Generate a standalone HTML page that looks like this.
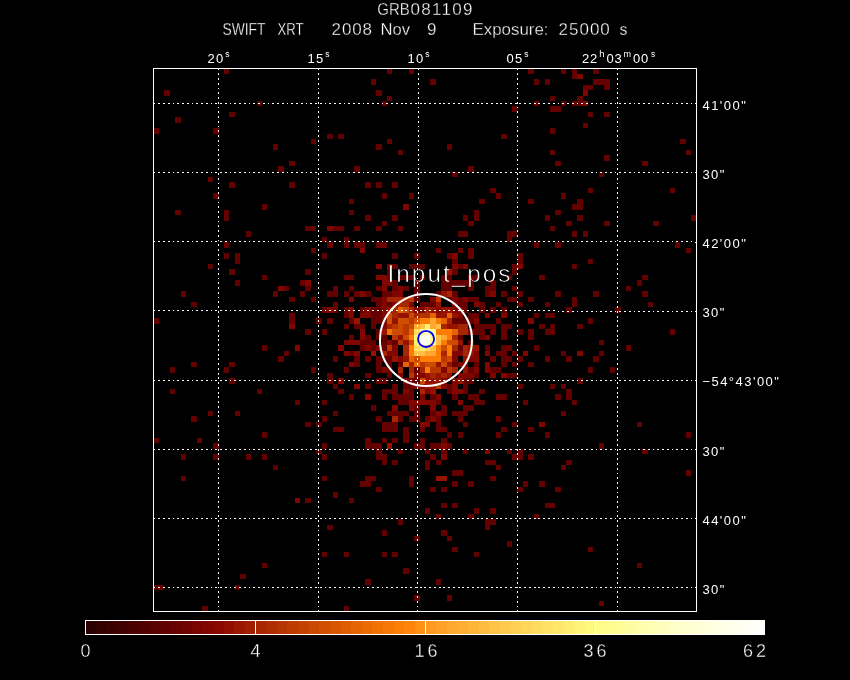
<!DOCTYPE html>
<html><head><meta charset="utf-8"><title>GRB081109</title>
<style>
html,body{margin:0;padding:0;background:#000;}
body{width:850px;height:680px;overflow:hidden;position:relative;font-family:"Liberation Sans",sans-serif;}
svg{position:absolute;left:0;top:0;}
text{font-family:"Liberation Sans",sans-serif;fill:#fff;stroke:#000;}
</style></head><body>
<svg width="850" height="680" viewBox="0 0 850 680">
<rect width="850" height="680" fill="#000"/>

<g shape-rendering="crispEdges">
<rect x="154" y="128" width="5" height="6" fill="#650000"/>
<rect x="154" y="318" width="5" height="6" fill="#650000"/>
<rect x="154" y="438" width="5" height="5" fill="#650000"/>
<rect x="154" y="585" width="5" height="5" fill="#650000"/>
<rect x="159" y="585" width="5" height="5" fill="#650000"/>
<rect x="164" y="90" width="6" height="6" fill="#650000"/>
<rect x="170" y="367" width="5" height="6" fill="#650000"/>
<rect x="170" y="389" width="5" height="5" fill="#650000"/>
<rect x="175" y="117" width="6" height="6" fill="#650000"/>
<rect x="175" y="210" width="6" height="5" fill="#650000"/>
<rect x="181" y="291" width="5" height="6" fill="#650000"/>
<rect x="181" y="454" width="5" height="6" fill="#650000"/>
<rect x="181" y="476" width="5" height="5" fill="#650000"/>
<rect x="191" y="302" width="6" height="5" fill="#650000"/>
<rect x="191" y="362" width="6" height="5" fill="#650000"/>
<rect x="191" y="416" width="6" height="6" fill="#650000"/>
<rect x="197" y="438" width="5" height="5" fill="#650000"/>
<rect x="202" y="606" width="6" height="5" fill="#650000"/>
<rect x="208" y="177" width="5" height="5" fill="#650000"/>
<rect x="208" y="264" width="5" height="5" fill="#650000"/>
<rect x="208" y="411" width="5" height="5" fill="#650000"/>
<rect x="213" y="128" width="6" height="6" fill="#650000"/>
<rect x="213" y="193" width="6" height="6" fill="#650000"/>
<rect x="213" y="443" width="6" height="6" fill="#650000"/>
<rect x="213" y="454" width="6" height="6" fill="#650000"/>
<rect x="224" y="69" width="5" height="5" fill="#650000"/>
<rect x="224" y="210" width="5" height="5" fill="#650000"/>
<rect x="224" y="215" width="5" height="6" fill="#650000"/>
<rect x="224" y="242" width="5" height="6" fill="#650000"/>
<rect x="224" y="253" width="5" height="6" fill="#650000"/>
<rect x="224" y="367" width="5" height="6" fill="#650000"/>
<rect x="229" y="112" width="6" height="5" fill="#650000"/>
<rect x="229" y="182" width="6" height="6" fill="#650000"/>
<rect x="229" y="269" width="6" height="6" fill="#650000"/>
<rect x="229" y="362" width="6" height="5" fill="#650000"/>
<rect x="229" y="378" width="6" height="6" fill="#650000"/>
<rect x="235" y="253" width="5" height="6" fill="#650000"/>
<rect x="235" y="259" width="5" height="5" fill="#650000"/>
<rect x="235" y="280" width="5" height="6" fill="#650000"/>
<rect x="235" y="411" width="5" height="5" fill="#650000"/>
<rect x="235" y="585" width="5" height="5" fill="#650000"/>
<rect x="240" y="574" width="6" height="5" fill="#650000"/>
<rect x="246" y="231" width="5" height="6" fill="#650000"/>
<rect x="246" y="454" width="5" height="6" fill="#650000"/>
<rect x="257" y="101" width="5" height="5" fill="#650000"/>
<rect x="257" y="389" width="5" height="5" fill="#650000"/>
<rect x="262" y="204" width="5" height="6" fill="#650000"/>
<rect x="262" y="275" width="5" height="5" fill="#650000"/>
<rect x="262" y="345" width="5" height="6" fill="#650000"/>
<rect x="262" y="432" width="5" height="6" fill="#650000"/>
<rect x="262" y="454" width="5" height="6" fill="#650000"/>
<rect x="262" y="563" width="5" height="5" fill="#650000"/>
<rect x="273" y="144" width="5" height="6" fill="#650000"/>
<rect x="273" y="291" width="5" height="6" fill="#650000"/>
<rect x="273" y="465" width="5" height="5" fill="#650000"/>
<rect x="278" y="166" width="6" height="6" fill="#650000"/>
<rect x="278" y="286" width="6" height="5" fill="#810600"/>
<rect x="278" y="356" width="6" height="6" fill="#650000"/>
<rect x="284" y="286" width="5" height="5" fill="#650000"/>
<rect x="284" y="351" width="5" height="5" fill="#650000"/>
<rect x="289" y="161" width="6" height="5" fill="#650000"/>
<rect x="289" y="182" width="6" height="6" fill="#650000"/>
<rect x="289" y="297" width="6" height="5" fill="#650000"/>
<rect x="289" y="313" width="6" height="5" fill="#650000"/>
<rect x="289" y="318" width="6" height="6" fill="#650000"/>
<rect x="289" y="324" width="6" height="5" fill="#810600"/>
<rect x="295" y="345" width="5" height="6" fill="#810600"/>
<rect x="295" y="400" width="5" height="5" fill="#650000"/>
<rect x="295" y="498" width="5" height="5" fill="#810600"/>
<rect x="300" y="280" width="5" height="6" fill="#650000"/>
<rect x="300" y="291" width="5" height="6" fill="#650000"/>
<rect x="305" y="226" width="6" height="5" fill="#650000"/>
<rect x="305" y="269" width="6" height="6" fill="#650000"/>
<rect x="305" y="280" width="6" height="6" fill="#810600"/>
<rect x="305" y="286" width="6" height="5" fill="#650000"/>
<rect x="305" y="329" width="6" height="6" fill="#650000"/>
<rect x="305" y="422" width="6" height="5" fill="#650000"/>
<rect x="305" y="498" width="6" height="5" fill="#650000"/>
<rect x="311" y="139" width="5" height="5" fill="#650000"/>
<rect x="311" y="226" width="5" height="5" fill="#650000"/>
<rect x="311" y="248" width="5" height="5" fill="#650000"/>
<rect x="311" y="297" width="5" height="5" fill="#650000"/>
<rect x="311" y="367" width="5" height="6" fill="#650000"/>
<rect x="316" y="318" width="6" height="6" fill="#650000"/>
<rect x="316" y="422" width="6" height="5" fill="#650000"/>
<rect x="316" y="449" width="6" height="5" fill="#650000"/>
<rect x="322" y="237" width="5" height="5" fill="#650000"/>
<rect x="322" y="253" width="5" height="6" fill="#650000"/>
<rect x="322" y="307" width="5" height="6" fill="#650000"/>
<rect x="322" y="329" width="5" height="6" fill="#650000"/>
<rect x="322" y="400" width="5" height="5" fill="#650000"/>
<rect x="322" y="416" width="5" height="6" fill="#650000"/>
<rect x="322" y="443" width="5" height="6" fill="#650000"/>
<rect x="322" y="454" width="5" height="6" fill="#650000"/>
<rect x="322" y="476" width="5" height="5" fill="#650000"/>
<rect x="322" y="552" width="5" height="5" fill="#650000"/>
<rect x="327" y="134" width="6" height="5" fill="#650000"/>
<rect x="327" y="226" width="6" height="5" fill="#810600"/>
<rect x="327" y="242" width="6" height="6" fill="#650000"/>
<rect x="327" y="291" width="6" height="6" fill="#650000"/>
<rect x="327" y="307" width="6" height="6" fill="#810600"/>
<rect x="327" y="318" width="6" height="6" fill="#650000"/>
<rect x="327" y="373" width="6" height="5" fill="#650000"/>
<rect x="327" y="378" width="6" height="6" fill="#650000"/>
<rect x="327" y="525" width="6" height="5" fill="#650000"/>
<rect x="333" y="226" width="5" height="5" fill="#650000"/>
<rect x="333" y="286" width="5" height="5" fill="#650000"/>
<rect x="333" y="291" width="5" height="6" fill="#650000"/>
<rect x="333" y="302" width="5" height="5" fill="#650000"/>
<rect x="333" y="307" width="5" height="6" fill="#650000"/>
<rect x="333" y="356" width="5" height="6" fill="#650000"/>
<rect x="333" y="384" width="5" height="5" fill="#650000"/>
<rect x="333" y="411" width="5" height="5" fill="#650000"/>
<rect x="333" y="427" width="5" height="5" fill="#650000"/>
<rect x="333" y="492" width="5" height="6" fill="#650000"/>
<rect x="338" y="134" width="6" height="5" fill="#650000"/>
<rect x="338" y="226" width="6" height="5" fill="#650000"/>
<rect x="338" y="345" width="6" height="6" fill="#810600"/>
<rect x="338" y="378" width="6" height="6" fill="#810600"/>
<rect x="338" y="389" width="6" height="5" fill="#650000"/>
<rect x="338" y="427" width="6" height="5" fill="#650000"/>
<rect x="344" y="237" width="5" height="5" fill="#650000"/>
<rect x="344" y="242" width="5" height="6" fill="#650000"/>
<rect x="344" y="275" width="5" height="5" fill="#650000"/>
<rect x="344" y="291" width="5" height="6" fill="#650000"/>
<rect x="344" y="307" width="5" height="6" fill="#650000"/>
<rect x="344" y="313" width="5" height="5" fill="#650000"/>
<rect x="344" y="324" width="5" height="5" fill="#650000"/>
<rect x="344" y="340" width="5" height="5" fill="#810600"/>
<rect x="344" y="351" width="5" height="5" fill="#810600"/>
<rect x="344" y="367" width="5" height="6" fill="#650000"/>
<rect x="344" y="552" width="5" height="5" fill="#650000"/>
<rect x="344" y="606" width="5" height="5" fill="#650000"/>
<rect x="349" y="199" width="5" height="5" fill="#650000"/>
<rect x="349" y="210" width="5" height="5" fill="#650000"/>
<rect x="349" y="275" width="5" height="5" fill="#650000"/>
<rect x="349" y="286" width="5" height="5" fill="#650000"/>
<rect x="349" y="297" width="5" height="5" fill="#810600"/>
<rect x="349" y="307" width="5" height="6" fill="#810600"/>
<rect x="349" y="313" width="5" height="5" fill="#810600"/>
<rect x="349" y="318" width="5" height="6" fill="#650000"/>
<rect x="349" y="335" width="5" height="5" fill="#650000"/>
<rect x="349" y="340" width="5" height="5" fill="#810600"/>
<rect x="349" y="351" width="5" height="5" fill="#650000"/>
<rect x="349" y="362" width="5" height="5" fill="#810600"/>
<rect x="349" y="394" width="5" height="6" fill="#650000"/>
<rect x="349" y="498" width="5" height="5" fill="#650000"/>
<rect x="354" y="166" width="6" height="6" fill="#650000"/>
<rect x="354" y="226" width="6" height="5" fill="#650000"/>
<rect x="354" y="242" width="6" height="6" fill="#650000"/>
<rect x="354" y="291" width="6" height="6" fill="#650000"/>
<rect x="354" y="318" width="6" height="6" fill="#961300"/>
<rect x="354" y="324" width="6" height="5" fill="#650000"/>
<rect x="354" y="340" width="6" height="5" fill="#810600"/>
<rect x="354" y="351" width="6" height="5" fill="#810600"/>
<rect x="354" y="356" width="6" height="6" fill="#650000"/>
<rect x="354" y="362" width="6" height="5" fill="#650000"/>
<rect x="354" y="384" width="6" height="5" fill="#810600"/>
<rect x="360" y="242" width="5" height="6" fill="#650000"/>
<rect x="360" y="248" width="5" height="5" fill="#810600"/>
<rect x="360" y="291" width="5" height="6" fill="#810600"/>
<rect x="360" y="307" width="5" height="6" fill="#650000"/>
<rect x="360" y="313" width="5" height="5" fill="#810600"/>
<rect x="360" y="324" width="5" height="5" fill="#650000"/>
<rect x="360" y="329" width="5" height="6" fill="#810600"/>
<rect x="360" y="335" width="5" height="5" fill="#810600"/>
<rect x="360" y="340" width="5" height="5" fill="#650000"/>
<rect x="360" y="345" width="5" height="6" fill="#650000"/>
<rect x="360" y="481" width="5" height="6" fill="#650000"/>
<rect x="365" y="182" width="6" height="6" fill="#650000"/>
<rect x="365" y="215" width="6" height="6" fill="#650000"/>
<rect x="365" y="291" width="6" height="6" fill="#650000"/>
<rect x="365" y="307" width="6" height="6" fill="#810600"/>
<rect x="365" y="313" width="6" height="5" fill="#810600"/>
<rect x="365" y="335" width="6" height="5" fill="#650000"/>
<rect x="365" y="340" width="6" height="5" fill="#650000"/>
<rect x="365" y="345" width="6" height="6" fill="#810600"/>
<rect x="365" y="356" width="6" height="6" fill="#650000"/>
<rect x="365" y="373" width="6" height="5" fill="#650000"/>
<rect x="365" y="384" width="6" height="5" fill="#650000"/>
<rect x="365" y="394" width="6" height="6" fill="#810600"/>
<rect x="365" y="438" width="6" height="5" fill="#650000"/>
<rect x="365" y="443" width="6" height="6" fill="#650000"/>
<rect x="365" y="476" width="6" height="5" fill="#650000"/>
<rect x="365" y="481" width="6" height="6" fill="#650000"/>
<rect x="365" y="579" width="6" height="6" fill="#650000"/>
<rect x="371" y="79" width="5" height="6" fill="#650000"/>
<rect x="371" y="297" width="5" height="5" fill="#650000"/>
<rect x="371" y="307" width="5" height="6" fill="#650000"/>
<rect x="371" y="313" width="5" height="5" fill="#650000"/>
<rect x="371" y="318" width="5" height="6" fill="#650000"/>
<rect x="371" y="324" width="5" height="5" fill="#650000"/>
<rect x="371" y="340" width="5" height="5" fill="#650000"/>
<rect x="371" y="345" width="5" height="6" fill="#650000"/>
<rect x="371" y="351" width="5" height="5" fill="#961300"/>
<rect x="371" y="405" width="5" height="6" fill="#650000"/>
<rect x="371" y="443" width="5" height="6" fill="#650000"/>
<rect x="371" y="476" width="5" height="5" fill="#650000"/>
<rect x="376" y="90" width="6" height="6" fill="#650000"/>
<rect x="376" y="144" width="6" height="6" fill="#650000"/>
<rect x="376" y="182" width="6" height="6" fill="#650000"/>
<rect x="376" y="226" width="6" height="5" fill="#650000"/>
<rect x="376" y="242" width="6" height="6" fill="#650000"/>
<rect x="376" y="264" width="6" height="5" fill="#810600"/>
<rect x="376" y="275" width="6" height="5" fill="#810600"/>
<rect x="376" y="286" width="6" height="5" fill="#650000"/>
<rect x="376" y="297" width="6" height="5" fill="#650000"/>
<rect x="376" y="302" width="6" height="5" fill="#650000"/>
<rect x="376" y="307" width="6" height="6" fill="#650000"/>
<rect x="376" y="313" width="6" height="5" fill="#650000"/>
<rect x="376" y="318" width="6" height="6" fill="#650000"/>
<rect x="376" y="329" width="6" height="6" fill="#650000"/>
<rect x="376" y="335" width="6" height="5" fill="#650000"/>
<rect x="376" y="345" width="6" height="6" fill="#810600"/>
<rect x="376" y="356" width="6" height="6" fill="#650000"/>
<rect x="376" y="362" width="6" height="5" fill="#650000"/>
<rect x="376" y="367" width="6" height="6" fill="#650000"/>
<rect x="376" y="378" width="6" height="6" fill="#650000"/>
<rect x="376" y="416" width="6" height="6" fill="#650000"/>
<rect x="376" y="443" width="6" height="6" fill="#650000"/>
<rect x="376" y="449" width="6" height="5" fill="#650000"/>
<rect x="376" y="454" width="6" height="6" fill="#650000"/>
<rect x="376" y="487" width="6" height="5" fill="#650000"/>
<rect x="382" y="101" width="5" height="5" fill="#650000"/>
<rect x="382" y="193" width="5" height="6" fill="#650000"/>
<rect x="382" y="221" width="5" height="5" fill="#650000"/>
<rect x="382" y="242" width="5" height="6" fill="#650000"/>
<rect x="382" y="275" width="5" height="5" fill="#810600"/>
<rect x="382" y="280" width="5" height="6" fill="#810600"/>
<rect x="382" y="286" width="5" height="5" fill="#810600"/>
<rect x="382" y="291" width="5" height="6" fill="#650000"/>
<rect x="382" y="297" width="5" height="5" fill="#810600"/>
<rect x="382" y="302" width="5" height="5" fill="#810600"/>
<rect x="382" y="307" width="5" height="6" fill="#810600"/>
<rect x="382" y="313" width="5" height="5" fill="#810600"/>
<rect x="382" y="318" width="5" height="6" fill="#810600"/>
<rect x="382" y="324" width="5" height="5" fill="#810600"/>
<rect x="382" y="329" width="5" height="6" fill="#961300"/>
<rect x="382" y="335" width="5" height="5" fill="#650000"/>
<rect x="382" y="340" width="5" height="5" fill="#650000"/>
<rect x="382" y="345" width="5" height="6" fill="#650000"/>
<rect x="382" y="351" width="5" height="5" fill="#a72500"/>
<rect x="382" y="356" width="5" height="6" fill="#650000"/>
<rect x="382" y="367" width="5" height="6" fill="#810600"/>
<rect x="382" y="378" width="5" height="6" fill="#650000"/>
<rect x="382" y="389" width="5" height="5" fill="#650000"/>
<rect x="382" y="394" width="5" height="6" fill="#650000"/>
<rect x="382" y="422" width="5" height="5" fill="#650000"/>
<rect x="382" y="427" width="5" height="5" fill="#650000"/>
<rect x="382" y="438" width="5" height="5" fill="#650000"/>
<rect x="382" y="454" width="5" height="6" fill="#650000"/>
<rect x="382" y="460" width="5" height="5" fill="#650000"/>
<rect x="382" y="530" width="5" height="6" fill="#650000"/>
<rect x="382" y="552" width="5" height="5" fill="#650000"/>
<rect x="387" y="69" width="5" height="5" fill="#650000"/>
<rect x="387" y="96" width="5" height="5" fill="#650000"/>
<rect x="387" y="139" width="5" height="5" fill="#650000"/>
<rect x="387" y="264" width="5" height="5" fill="#810600"/>
<rect x="387" y="269" width="5" height="6" fill="#650000"/>
<rect x="387" y="275" width="5" height="5" fill="#650000"/>
<rect x="387" y="280" width="5" height="6" fill="#810600"/>
<rect x="387" y="291" width="5" height="6" fill="#650000"/>
<rect x="387" y="297" width="5" height="5" fill="#a72500"/>
<rect x="387" y="302" width="5" height="5" fill="#650000"/>
<rect x="387" y="307" width="5" height="6" fill="#961300"/>
<rect x="387" y="313" width="5" height="5" fill="#cd4b00"/>
<rect x="387" y="318" width="5" height="6" fill="#d04e00"/>
<rect x="387" y="324" width="5" height="5" fill="#a72500"/>
<rect x="387" y="329" width="5" height="6" fill="#f17102"/>
<rect x="387" y="340" width="5" height="5" fill="#810600"/>
<rect x="387" y="345" width="5" height="6" fill="#ba3800"/>
<rect x="387" y="351" width="5" height="5" fill="#810600"/>
<rect x="387" y="356" width="5" height="6" fill="#650000"/>
<rect x="387" y="362" width="5" height="5" fill="#650000"/>
<rect x="387" y="367" width="5" height="6" fill="#650000"/>
<rect x="387" y="373" width="5" height="5" fill="#650000"/>
<rect x="387" y="389" width="5" height="5" fill="#650000"/>
<rect x="387" y="411" width="5" height="5" fill="#650000"/>
<rect x="387" y="422" width="5" height="5" fill="#650000"/>
<rect x="387" y="427" width="5" height="5" fill="#650000"/>
<rect x="387" y="443" width="5" height="6" fill="#961300"/>
<rect x="392" y="182" width="6" height="6" fill="#650000"/>
<rect x="392" y="215" width="6" height="6" fill="#650000"/>
<rect x="392" y="253" width="6" height="6" fill="#650000"/>
<rect x="392" y="264" width="6" height="5" fill="#650000"/>
<rect x="392" y="280" width="6" height="6" fill="#650000"/>
<rect x="392" y="286" width="6" height="5" fill="#650000"/>
<rect x="392" y="291" width="6" height="6" fill="#810600"/>
<rect x="392" y="297" width="6" height="5" fill="#a72500"/>
<rect x="392" y="302" width="6" height="5" fill="#810600"/>
<rect x="392" y="307" width="6" height="6" fill="#a72500"/>
<rect x="392" y="313" width="6" height="5" fill="#a72500"/>
<rect x="392" y="318" width="6" height="6" fill="#961300"/>
<rect x="392" y="324" width="6" height="5" fill="#ba3800"/>
<rect x="392" y="329" width="6" height="6" fill="#cd4b00"/>
<rect x="392" y="335" width="6" height="5" fill="#ba3800"/>
<rect x="392" y="340" width="6" height="5" fill="#650000"/>
<rect x="392" y="345" width="6" height="6" fill="#810600"/>
<rect x="392" y="351" width="6" height="5" fill="#810600"/>
<rect x="392" y="356" width="6" height="6" fill="#961300"/>
<rect x="392" y="384" width="6" height="5" fill="#650000"/>
<rect x="392" y="389" width="6" height="5" fill="#650000"/>
<rect x="392" y="394" width="6" height="6" fill="#650000"/>
<rect x="392" y="405" width="6" height="6" fill="#810600"/>
<rect x="392" y="411" width="6" height="5" fill="#650000"/>
<rect x="392" y="416" width="6" height="6" fill="#a72500"/>
<rect x="392" y="422" width="6" height="5" fill="#650000"/>
<rect x="392" y="427" width="6" height="5" fill="#650000"/>
<rect x="392" y="438" width="6" height="5" fill="#650000"/>
<rect x="392" y="460" width="6" height="5" fill="#650000"/>
<rect x="392" y="552" width="6" height="5" fill="#650000"/>
<rect x="398" y="150" width="5" height="5" fill="#650000"/>
<rect x="398" y="226" width="5" height="5" fill="#650000"/>
<rect x="398" y="275" width="5" height="5" fill="#650000"/>
<rect x="398" y="286" width="5" height="5" fill="#810600"/>
<rect x="398" y="291" width="5" height="6" fill="#810600"/>
<rect x="398" y="297" width="5" height="5" fill="#a72500"/>
<rect x="398" y="302" width="5" height="5" fill="#a72500"/>
<rect x="398" y="307" width="5" height="6" fill="#e56300"/>
<rect x="398" y="313" width="5" height="5" fill="#961300"/>
<rect x="398" y="318" width="5" height="6" fill="#d04e00"/>
<rect x="398" y="324" width="5" height="5" fill="#cd4b00"/>
<rect x="398" y="329" width="5" height="6" fill="#cd4b00"/>
<rect x="398" y="335" width="5" height="5" fill="#961300"/>
<rect x="398" y="340" width="5" height="5" fill="#ba3800"/>
<rect x="398" y="356" width="5" height="6" fill="#810600"/>
<rect x="398" y="362" width="5" height="5" fill="#650000"/>
<rect x="398" y="367" width="5" height="6" fill="#a72500"/>
<rect x="398" y="373" width="5" height="5" fill="#810600"/>
<rect x="398" y="394" width="5" height="6" fill="#650000"/>
<rect x="398" y="400" width="5" height="5" fill="#650000"/>
<rect x="398" y="411" width="5" height="5" fill="#650000"/>
<rect x="398" y="416" width="5" height="6" fill="#650000"/>
<rect x="398" y="449" width="5" height="5" fill="#650000"/>
<rect x="398" y="519" width="5" height="6" fill="#650000"/>
<rect x="403" y="204" width="6" height="6" fill="#810600"/>
<rect x="403" y="275" width="6" height="5" fill="#650000"/>
<rect x="403" y="286" width="6" height="5" fill="#650000"/>
<rect x="403" y="297" width="6" height="5" fill="#a72500"/>
<rect x="403" y="302" width="6" height="5" fill="#a72500"/>
<rect x="403" y="307" width="6" height="6" fill="#cd4b00"/>
<rect x="403" y="313" width="6" height="5" fill="#961300"/>
<rect x="403" y="318" width="6" height="6" fill="#d04e00"/>
<rect x="403" y="324" width="6" height="5" fill="#ba3800"/>
<rect x="403" y="329" width="6" height="6" fill="#ba3800"/>
<rect x="403" y="335" width="6" height="5" fill="#cd4b00"/>
<rect x="403" y="340" width="6" height="5" fill="#961300"/>
<rect x="403" y="345" width="6" height="6" fill="#a72500"/>
<rect x="403" y="351" width="6" height="5" fill="#a72500"/>
<rect x="403" y="356" width="6" height="6" fill="#961300"/>
<rect x="403" y="362" width="6" height="5" fill="#e56300"/>
<rect x="403" y="378" width="6" height="6" fill="#810600"/>
<rect x="403" y="384" width="6" height="5" fill="#650000"/>
<rect x="403" y="389" width="6" height="5" fill="#810600"/>
<rect x="403" y="394" width="6" height="6" fill="#650000"/>
<rect x="403" y="400" width="6" height="5" fill="#650000"/>
<rect x="403" y="411" width="6" height="5" fill="#650000"/>
<rect x="403" y="427" width="6" height="5" fill="#650000"/>
<rect x="403" y="432" width="6" height="6" fill="#650000"/>
<rect x="403" y="438" width="6" height="5" fill="#650000"/>
<rect x="403" y="568" width="6" height="6" fill="#650000"/>
<rect x="409" y="69" width="5" height="5" fill="#650000"/>
<rect x="409" y="193" width="5" height="6" fill="#650000"/>
<rect x="409" y="264" width="5" height="5" fill="#650000"/>
<rect x="409" y="275" width="5" height="5" fill="#650000"/>
<rect x="409" y="297" width="5" height="5" fill="#ba3800"/>
<rect x="409" y="302" width="5" height="5" fill="#810600"/>
<rect x="409" y="307" width="5" height="6" fill="#a72500"/>
<rect x="409" y="313" width="5" height="5" fill="#cd4b00"/>
<rect x="409" y="318" width="5" height="6" fill="#ba3800"/>
<rect x="409" y="324" width="5" height="5" fill="#cd4b00"/>
<rect x="409" y="329" width="5" height="6" fill="#e56300"/>
<rect x="409" y="335" width="5" height="5" fill="#fb7d04"/>
<rect x="409" y="340" width="5" height="5" fill="#cd4b00"/>
<rect x="409" y="345" width="5" height="6" fill="#fb7d04"/>
<rect x="409" y="351" width="5" height="5" fill="#fb7d04"/>
<rect x="409" y="356" width="5" height="6" fill="#e56300"/>
<rect x="409" y="362" width="5" height="5" fill="#a72500"/>
<rect x="409" y="367" width="5" height="6" fill="#a72500"/>
<rect x="409" y="373" width="5" height="5" fill="#ba3800"/>
<rect x="409" y="378" width="5" height="6" fill="#810600"/>
<rect x="409" y="384" width="5" height="5" fill="#650000"/>
<rect x="409" y="389" width="5" height="5" fill="#650000"/>
<rect x="409" y="394" width="5" height="6" fill="#650000"/>
<rect x="409" y="400" width="5" height="5" fill="#810600"/>
<rect x="409" y="405" width="5" height="6" fill="#810600"/>
<rect x="409" y="416" width="5" height="6" fill="#650000"/>
<rect x="409" y="476" width="5" height="5" fill="#650000"/>
<rect x="409" y="481" width="5" height="6" fill="#650000"/>
<rect x="414" y="253" width="6" height="6" fill="#650000"/>
<rect x="414" y="264" width="6" height="5" fill="#650000"/>
<rect x="414" y="280" width="6" height="6" fill="#650000"/>
<rect x="414" y="286" width="6" height="5" fill="#650000"/>
<rect x="414" y="291" width="6" height="6" fill="#650000"/>
<rect x="414" y="297" width="6" height="5" fill="#650000"/>
<rect x="414" y="307" width="6" height="6" fill="#810600"/>
<rect x="414" y="313" width="6" height="5" fill="#a72500"/>
<rect x="414" y="318" width="6" height="6" fill="#d95700"/>
<rect x="414" y="324" width="6" height="5" fill="#ffa72e"/>
<rect x="414" y="329" width="6" height="6" fill="#ffda5e"/>
<rect x="414" y="335" width="6" height="5" fill="#fff075"/>
<rect x="414" y="340" width="6" height="5" fill="#fff075"/>
<rect x="414" y="345" width="6" height="6" fill="#ffda5e"/>
<rect x="414" y="351" width="6" height="5" fill="#ffc044"/>
<rect x="414" y="356" width="6" height="6" fill="#cd4b00"/>
<rect x="414" y="362" width="6" height="5" fill="#e56300"/>
<rect x="414" y="367" width="6" height="6" fill="#650000"/>
<rect x="414" y="373" width="6" height="5" fill="#810600"/>
<rect x="414" y="378" width="6" height="6" fill="#650000"/>
<rect x="414" y="384" width="6" height="5" fill="#810600"/>
<rect x="414" y="400" width="6" height="5" fill="#810600"/>
<rect x="414" y="405" width="6" height="6" fill="#650000"/>
<rect x="414" y="411" width="6" height="5" fill="#650000"/>
<rect x="414" y="416" width="6" height="6" fill="#650000"/>
<rect x="414" y="443" width="6" height="6" fill="#650000"/>
<rect x="414" y="536" width="6" height="5" fill="#650000"/>
<rect x="414" y="595" width="6" height="6" fill="#650000"/>
<rect x="420" y="264" width="5" height="5" fill="#650000"/>
<rect x="420" y="275" width="5" height="5" fill="#650000"/>
<rect x="420" y="302" width="5" height="5" fill="#650000"/>
<rect x="420" y="307" width="5" height="6" fill="#810600"/>
<rect x="420" y="313" width="5" height="5" fill="#b43200"/>
<rect x="420" y="318" width="5" height="6" fill="#fb7d04"/>
<rect x="420" y="324" width="5" height="5" fill="#ffc044"/>
<rect x="420" y="329" width="5" height="6" fill="#fffd96"/>
<rect x="420" y="335" width="5" height="5" fill="#ffffe1"/>
<rect x="420" y="340" width="5" height="5" fill="#ffffff"/>
<rect x="420" y="345" width="5" height="6" fill="#fff075"/>
<rect x="420" y="351" width="5" height="5" fill="#ffc044"/>
<rect x="420" y="356" width="5" height="6" fill="#fb7d04"/>
<rect x="420" y="362" width="5" height="5" fill="#ba3800"/>
<rect x="420" y="367" width="5" height="6" fill="#a72500"/>
<rect x="420" y="373" width="5" height="5" fill="#810600"/>
<rect x="420" y="378" width="5" height="6" fill="#cd4b00"/>
<rect x="420" y="384" width="5" height="5" fill="#810600"/>
<rect x="420" y="389" width="5" height="5" fill="#a72500"/>
<rect x="420" y="394" width="5" height="6" fill="#810600"/>
<rect x="420" y="400" width="5" height="5" fill="#810600"/>
<rect x="420" y="422" width="5" height="5" fill="#810600"/>
<rect x="420" y="427" width="5" height="5" fill="#650000"/>
<rect x="420" y="438" width="5" height="5" fill="#650000"/>
<rect x="420" y="443" width="5" height="6" fill="#650000"/>
<rect x="425" y="302" width="5" height="5" fill="#650000"/>
<rect x="425" y="307" width="5" height="6" fill="#a72500"/>
<rect x="425" y="313" width="5" height="5" fill="#b43200"/>
<rect x="425" y="318" width="5" height="6" fill="#fb7d04"/>
<rect x="425" y="324" width="5" height="5" fill="#fff075"/>
<rect x="425" y="329" width="5" height="6" fill="#fffebf"/>
<rect x="425" y="335" width="5" height="5" fill="#ffffff"/>
<rect x="425" y="340" width="5" height="5" fill="#ffffe1"/>
<rect x="425" y="345" width="5" height="6" fill="#ffda5e"/>
<rect x="425" y="351" width="5" height="5" fill="#ffa72e"/>
<rect x="425" y="356" width="5" height="6" fill="#fb7d04"/>
<rect x="425" y="362" width="5" height="5" fill="#cd4b00"/>
<rect x="425" y="367" width="5" height="6" fill="#fb7d04"/>
<rect x="425" y="373" width="5" height="5" fill="#961300"/>
<rect x="425" y="378" width="5" height="6" fill="#961300"/>
<rect x="425" y="384" width="5" height="5" fill="#961300"/>
<rect x="425" y="389" width="5" height="5" fill="#810600"/>
<rect x="425" y="400" width="5" height="5" fill="#810600"/>
<rect x="425" y="416" width="5" height="6" fill="#650000"/>
<rect x="425" y="422" width="5" height="5" fill="#810600"/>
<rect x="425" y="449" width="5" height="5" fill="#650000"/>
<rect x="425" y="460" width="5" height="5" fill="#650000"/>
<rect x="425" y="465" width="5" height="5" fill="#650000"/>
<rect x="425" y="508" width="5" height="6" fill="#650000"/>
<rect x="430" y="79" width="6" height="6" fill="#650000"/>
<rect x="430" y="297" width="6" height="5" fill="#810600"/>
<rect x="430" y="302" width="6" height="5" fill="#650000"/>
<rect x="430" y="307" width="6" height="6" fill="#961300"/>
<rect x="430" y="313" width="6" height="5" fill="#e56300"/>
<rect x="430" y="318" width="6" height="6" fill="#ffa72e"/>
<rect x="430" y="324" width="6" height="5" fill="#ffa72e"/>
<rect x="430" y="329" width="6" height="6" fill="#fffd96"/>
<rect x="430" y="335" width="6" height="5" fill="#fffd96"/>
<rect x="430" y="340" width="6" height="5" fill="#fffd96"/>
<rect x="430" y="345" width="6" height="6" fill="#ffc044"/>
<rect x="430" y="351" width="6" height="5" fill="#ffa72e"/>
<rect x="430" y="356" width="6" height="6" fill="#fb7d04"/>
<rect x="430" y="362" width="6" height="5" fill="#cd4b00"/>
<rect x="430" y="367" width="6" height="6" fill="#ba3800"/>
<rect x="430" y="373" width="6" height="5" fill="#a72500"/>
<rect x="430" y="378" width="6" height="6" fill="#961300"/>
<rect x="430" y="384" width="6" height="5" fill="#961300"/>
<rect x="430" y="389" width="6" height="5" fill="#961300"/>
<rect x="430" y="394" width="6" height="6" fill="#650000"/>
<rect x="430" y="400" width="6" height="5" fill="#810600"/>
<rect x="430" y="405" width="6" height="6" fill="#810600"/>
<rect x="430" y="411" width="6" height="5" fill="#650000"/>
<rect x="430" y="416" width="6" height="6" fill="#810600"/>
<rect x="430" y="443" width="6" height="6" fill="#650000"/>
<rect x="430" y="454" width="6" height="6" fill="#650000"/>
<rect x="430" y="487" width="6" height="5" fill="#650000"/>
<rect x="436" y="248" width="5" height="5" fill="#650000"/>
<rect x="436" y="291" width="5" height="6" fill="#650000"/>
<rect x="436" y="297" width="5" height="5" fill="#ba3800"/>
<rect x="436" y="302" width="5" height="5" fill="#961300"/>
<rect x="436" y="307" width="5" height="6" fill="#810600"/>
<rect x="436" y="313" width="5" height="5" fill="#961300"/>
<rect x="436" y="318" width="5" height="6" fill="#fb7d04"/>
<rect x="436" y="324" width="5" height="5" fill="#ffc044"/>
<rect x="436" y="329" width="5" height="6" fill="#fb7d04"/>
<rect x="436" y="335" width="5" height="5" fill="#ffc044"/>
<rect x="436" y="340" width="5" height="5" fill="#ffc044"/>
<rect x="436" y="345" width="5" height="6" fill="#fb7d04"/>
<rect x="436" y="351" width="5" height="5" fill="#fb7d04"/>
<rect x="436" y="356" width="5" height="6" fill="#fb7d04"/>
<rect x="436" y="362" width="5" height="5" fill="#961300"/>
<rect x="436" y="367" width="5" height="6" fill="#ba3800"/>
<rect x="436" y="373" width="5" height="5" fill="#961300"/>
<rect x="436" y="378" width="5" height="6" fill="#961300"/>
<rect x="436" y="384" width="5" height="5" fill="#ba3800"/>
<rect x="436" y="394" width="5" height="6" fill="#810600"/>
<rect x="436" y="400" width="5" height="5" fill="#650000"/>
<rect x="436" y="411" width="5" height="5" fill="#810600"/>
<rect x="436" y="416" width="5" height="6" fill="#650000"/>
<rect x="436" y="422" width="5" height="5" fill="#650000"/>
<rect x="436" y="427" width="5" height="5" fill="#650000"/>
<rect x="436" y="443" width="5" height="6" fill="#650000"/>
<rect x="436" y="460" width="5" height="5" fill="#650000"/>
<rect x="436" y="476" width="5" height="5" fill="#961300"/>
<rect x="436" y="514" width="5" height="5" fill="#650000"/>
<rect x="436" y="579" width="5" height="6" fill="#650000"/>
<rect x="441" y="275" width="6" height="5" fill="#650000"/>
<rect x="441" y="280" width="6" height="6" fill="#650000"/>
<rect x="441" y="286" width="6" height="5" fill="#650000"/>
<rect x="441" y="291" width="6" height="6" fill="#961300"/>
<rect x="441" y="307" width="6" height="6" fill="#961300"/>
<rect x="441" y="313" width="6" height="5" fill="#961300"/>
<rect x="441" y="318" width="6" height="6" fill="#e56300"/>
<rect x="441" y="324" width="6" height="5" fill="#a72500"/>
<rect x="441" y="329" width="6" height="6" fill="#fb7d04"/>
<rect x="441" y="335" width="6" height="5" fill="#ffa72e"/>
<rect x="441" y="340" width="6" height="5" fill="#fb7d04"/>
<rect x="441" y="345" width="6" height="6" fill="#cd4b00"/>
<rect x="441" y="351" width="6" height="5" fill="#a72500"/>
<rect x="441" y="356" width="6" height="6" fill="#ba3800"/>
<rect x="441" y="362" width="6" height="5" fill="#cd4b00"/>
<rect x="441" y="367" width="6" height="6" fill="#810600"/>
<rect x="441" y="373" width="6" height="5" fill="#a72500"/>
<rect x="441" y="378" width="6" height="6" fill="#810600"/>
<rect x="441" y="384" width="6" height="5" fill="#810600"/>
<rect x="441" y="405" width="6" height="6" fill="#650000"/>
<rect x="441" y="411" width="6" height="5" fill="#650000"/>
<rect x="441" y="427" width="6" height="5" fill="#650000"/>
<rect x="441" y="438" width="6" height="5" fill="#650000"/>
<rect x="441" y="443" width="6" height="6" fill="#810600"/>
<rect x="441" y="449" width="6" height="5" fill="#650000"/>
<rect x="441" y="454" width="6" height="6" fill="#810600"/>
<rect x="441" y="476" width="6" height="5" fill="#961300"/>
<rect x="441" y="487" width="6" height="5" fill="#650000"/>
<rect x="441" y="503" width="6" height="5" fill="#650000"/>
<rect x="441" y="530" width="6" height="6" fill="#650000"/>
<rect x="447" y="144" width="5" height="6" fill="#650000"/>
<rect x="447" y="253" width="5" height="6" fill="#650000"/>
<rect x="447" y="269" width="5" height="6" fill="#961300"/>
<rect x="447" y="275" width="5" height="5" fill="#650000"/>
<rect x="447" y="280" width="5" height="6" fill="#650000"/>
<rect x="447" y="286" width="5" height="5" fill="#650000"/>
<rect x="447" y="291" width="5" height="6" fill="#a72500"/>
<rect x="447" y="297" width="5" height="5" fill="#650000"/>
<rect x="447" y="307" width="5" height="6" fill="#961300"/>
<rect x="447" y="313" width="5" height="5" fill="#e56300"/>
<rect x="447" y="318" width="5" height="6" fill="#a72500"/>
<rect x="447" y="324" width="5" height="5" fill="#961300"/>
<rect x="447" y="329" width="5" height="6" fill="#fb7d04"/>
<rect x="447" y="335" width="5" height="5" fill="#fb7d04"/>
<rect x="447" y="340" width="5" height="5" fill="#cd4b00"/>
<rect x="447" y="345" width="5" height="6" fill="#fb7d04"/>
<rect x="447" y="351" width="5" height="5" fill="#fb7d04"/>
<rect x="447" y="356" width="5" height="6" fill="#cd4b00"/>
<rect x="447" y="362" width="5" height="5" fill="#961300"/>
<rect x="447" y="367" width="5" height="6" fill="#ba3800"/>
<rect x="447" y="373" width="5" height="5" fill="#961300"/>
<rect x="447" y="384" width="5" height="5" fill="#650000"/>
<rect x="447" y="389" width="5" height="5" fill="#650000"/>
<rect x="447" y="432" width="5" height="6" fill="#650000"/>
<rect x="447" y="443" width="5" height="6" fill="#650000"/>
<rect x="447" y="536" width="5" height="5" fill="#650000"/>
<rect x="447" y="595" width="5" height="6" fill="#650000"/>
<rect x="452" y="172" width="6" height="5" fill="#650000"/>
<rect x="452" y="253" width="6" height="6" fill="#810600"/>
<rect x="452" y="259" width="6" height="5" fill="#650000"/>
<rect x="452" y="264" width="6" height="5" fill="#810600"/>
<rect x="452" y="269" width="6" height="6" fill="#650000"/>
<rect x="452" y="280" width="6" height="6" fill="#650000"/>
<rect x="452" y="291" width="6" height="6" fill="#650000"/>
<rect x="452" y="297" width="6" height="5" fill="#810600"/>
<rect x="452" y="302" width="6" height="5" fill="#810600"/>
<rect x="452" y="307" width="6" height="6" fill="#810600"/>
<rect x="452" y="313" width="6" height="5" fill="#961300"/>
<rect x="452" y="318" width="6" height="6" fill="#650000"/>
<rect x="452" y="324" width="6" height="5" fill="#961300"/>
<rect x="452" y="329" width="6" height="6" fill="#e56300"/>
<rect x="452" y="335" width="6" height="5" fill="#a72500"/>
<rect x="452" y="340" width="6" height="5" fill="#cd4b00"/>
<rect x="452" y="345" width="6" height="6" fill="#a72500"/>
<rect x="452" y="351" width="6" height="5" fill="#810600"/>
<rect x="452" y="356" width="6" height="6" fill="#810600"/>
<rect x="452" y="362" width="6" height="5" fill="#650000"/>
<rect x="452" y="367" width="6" height="6" fill="#a72500"/>
<rect x="452" y="378" width="6" height="6" fill="#810600"/>
<rect x="452" y="384" width="6" height="5" fill="#810600"/>
<rect x="452" y="389" width="6" height="5" fill="#810600"/>
<rect x="452" y="394" width="6" height="6" fill="#650000"/>
<rect x="452" y="411" width="6" height="5" fill="#650000"/>
<rect x="452" y="470" width="6" height="6" fill="#650000"/>
<rect x="452" y="481" width="6" height="6" fill="#650000"/>
<rect x="452" y="503" width="6" height="5" fill="#650000"/>
<rect x="452" y="547" width="6" height="5" fill="#650000"/>
<rect x="458" y="231" width="5" height="6" fill="#650000"/>
<rect x="458" y="248" width="5" height="5" fill="#650000"/>
<rect x="458" y="264" width="5" height="5" fill="#650000"/>
<rect x="458" y="280" width="5" height="6" fill="#650000"/>
<rect x="458" y="297" width="5" height="5" fill="#650000"/>
<rect x="458" y="302" width="5" height="5" fill="#650000"/>
<rect x="458" y="307" width="5" height="6" fill="#810600"/>
<rect x="458" y="313" width="5" height="5" fill="#810600"/>
<rect x="458" y="318" width="5" height="6" fill="#650000"/>
<rect x="458" y="324" width="5" height="5" fill="#a72500"/>
<rect x="458" y="329" width="5" height="6" fill="#a72500"/>
<rect x="458" y="335" width="5" height="5" fill="#650000"/>
<rect x="458" y="340" width="5" height="5" fill="#961300"/>
<rect x="458" y="345" width="5" height="6" fill="#650000"/>
<rect x="458" y="351" width="5" height="5" fill="#810600"/>
<rect x="458" y="362" width="5" height="5" fill="#810600"/>
<rect x="458" y="373" width="5" height="5" fill="#810600"/>
<rect x="458" y="378" width="5" height="6" fill="#961300"/>
<rect x="458" y="389" width="5" height="5" fill="#810600"/>
<rect x="458" y="400" width="5" height="5" fill="#810600"/>
<rect x="458" y="411" width="5" height="5" fill="#650000"/>
<rect x="458" y="416" width="5" height="6" fill="#650000"/>
<rect x="458" y="432" width="5" height="6" fill="#650000"/>
<rect x="458" y="470" width="5" height="6" fill="#650000"/>
<rect x="463" y="215" width="5" height="6" fill="#650000"/>
<rect x="463" y="231" width="5" height="6" fill="#650000"/>
<rect x="463" y="264" width="5" height="5" fill="#810600"/>
<rect x="463" y="280" width="5" height="6" fill="#650000"/>
<rect x="463" y="297" width="5" height="5" fill="#810600"/>
<rect x="463" y="302" width="5" height="5" fill="#650000"/>
<rect x="463" y="307" width="5" height="6" fill="#650000"/>
<rect x="463" y="318" width="5" height="6" fill="#650000"/>
<rect x="463" y="324" width="5" height="5" fill="#a72500"/>
<rect x="463" y="329" width="5" height="6" fill="#a72500"/>
<rect x="463" y="345" width="5" height="6" fill="#a72500"/>
<rect x="463" y="351" width="5" height="5" fill="#a72500"/>
<rect x="463" y="356" width="5" height="6" fill="#961300"/>
<rect x="463" y="362" width="5" height="5" fill="#810600"/>
<rect x="463" y="367" width="5" height="6" fill="#961300"/>
<rect x="463" y="373" width="5" height="5" fill="#810600"/>
<rect x="463" y="378" width="5" height="6" fill="#650000"/>
<rect x="463" y="384" width="5" height="5" fill="#650000"/>
<rect x="463" y="389" width="5" height="5" fill="#650000"/>
<rect x="463" y="405" width="5" height="6" fill="#650000"/>
<rect x="463" y="411" width="5" height="5" fill="#650000"/>
<rect x="463" y="422" width="5" height="5" fill="#650000"/>
<rect x="463" y="449" width="5" height="5" fill="#650000"/>
<rect x="468" y="166" width="6" height="6" fill="#650000"/>
<rect x="468" y="221" width="6" height="5" fill="#650000"/>
<rect x="468" y="248" width="6" height="5" fill="#650000"/>
<rect x="468" y="253" width="6" height="6" fill="#650000"/>
<rect x="468" y="275" width="6" height="5" fill="#650000"/>
<rect x="468" y="280" width="6" height="6" fill="#650000"/>
<rect x="468" y="286" width="6" height="5" fill="#650000"/>
<rect x="468" y="297" width="6" height="5" fill="#650000"/>
<rect x="468" y="313" width="6" height="5" fill="#650000"/>
<rect x="468" y="318" width="6" height="6" fill="#650000"/>
<rect x="468" y="329" width="6" height="6" fill="#810600"/>
<rect x="468" y="340" width="6" height="5" fill="#650000"/>
<rect x="468" y="345" width="6" height="6" fill="#961300"/>
<rect x="468" y="351" width="6" height="5" fill="#961300"/>
<rect x="468" y="356" width="6" height="6" fill="#810600"/>
<rect x="468" y="367" width="6" height="6" fill="#650000"/>
<rect x="468" y="373" width="6" height="5" fill="#810600"/>
<rect x="468" y="378" width="6" height="6" fill="#650000"/>
<rect x="468" y="394" width="6" height="6" fill="#650000"/>
<rect x="468" y="405" width="6" height="6" fill="#650000"/>
<rect x="468" y="481" width="6" height="6" fill="#650000"/>
<rect x="468" y="514" width="6" height="5" fill="#650000"/>
<rect x="474" y="210" width="5" height="5" fill="#650000"/>
<rect x="474" y="215" width="5" height="6" fill="#650000"/>
<rect x="474" y="275" width="5" height="5" fill="#650000"/>
<rect x="474" y="297" width="5" height="5" fill="#650000"/>
<rect x="474" y="302" width="5" height="5" fill="#810600"/>
<rect x="474" y="313" width="5" height="5" fill="#650000"/>
<rect x="474" y="318" width="5" height="6" fill="#810600"/>
<rect x="474" y="324" width="5" height="5" fill="#650000"/>
<rect x="474" y="329" width="5" height="6" fill="#650000"/>
<rect x="474" y="345" width="5" height="6" fill="#961300"/>
<rect x="474" y="351" width="5" height="5" fill="#810600"/>
<rect x="474" y="356" width="5" height="6" fill="#810600"/>
<rect x="474" y="362" width="5" height="5" fill="#650000"/>
<rect x="474" y="367" width="5" height="6" fill="#810600"/>
<rect x="474" y="373" width="5" height="5" fill="#650000"/>
<rect x="474" y="394" width="5" height="6" fill="#650000"/>
<rect x="474" y="400" width="5" height="5" fill="#650000"/>
<rect x="474" y="508" width="5" height="6" fill="#650000"/>
<rect x="474" y="552" width="5" height="5" fill="#650000"/>
<rect x="479" y="199" width="6" height="5" fill="#650000"/>
<rect x="479" y="302" width="6" height="5" fill="#650000"/>
<rect x="479" y="307" width="6" height="6" fill="#650000"/>
<rect x="479" y="324" width="6" height="5" fill="#650000"/>
<rect x="479" y="329" width="6" height="6" fill="#650000"/>
<rect x="479" y="335" width="6" height="5" fill="#650000"/>
<rect x="479" y="389" width="6" height="5" fill="#650000"/>
<rect x="479" y="400" width="6" height="5" fill="#650000"/>
<rect x="485" y="286" width="5" height="5" fill="#650000"/>
<rect x="485" y="291" width="5" height="6" fill="#650000"/>
<rect x="485" y="313" width="5" height="5" fill="#810600"/>
<rect x="485" y="324" width="5" height="5" fill="#650000"/>
<rect x="485" y="335" width="5" height="5" fill="#810600"/>
<rect x="485" y="345" width="5" height="6" fill="#650000"/>
<rect x="485" y="351" width="5" height="5" fill="#810600"/>
<rect x="485" y="362" width="5" height="5" fill="#810600"/>
<rect x="485" y="367" width="5" height="6" fill="#810600"/>
<rect x="485" y="449" width="5" height="5" fill="#810600"/>
<rect x="485" y="460" width="5" height="5" fill="#650000"/>
<rect x="485" y="519" width="5" height="6" fill="#650000"/>
<rect x="485" y="525" width="5" height="5" fill="#650000"/>
<rect x="490" y="188" width="6" height="5" fill="#650000"/>
<rect x="490" y="280" width="6" height="6" fill="#650000"/>
<rect x="490" y="286" width="6" height="5" fill="#650000"/>
<rect x="490" y="291" width="6" height="6" fill="#810600"/>
<rect x="490" y="307" width="6" height="6" fill="#650000"/>
<rect x="490" y="324" width="6" height="5" fill="#650000"/>
<rect x="490" y="329" width="6" height="6" fill="#650000"/>
<rect x="490" y="356" width="6" height="6" fill="#650000"/>
<rect x="490" y="367" width="6" height="6" fill="#650000"/>
<rect x="490" y="373" width="6" height="5" fill="#810600"/>
<rect x="490" y="460" width="6" height="5" fill="#650000"/>
<rect x="490" y="476" width="6" height="5" fill="#650000"/>
<rect x="490" y="508" width="6" height="6" fill="#650000"/>
<rect x="490" y="519" width="6" height="6" fill="#650000"/>
<rect x="496" y="193" width="5" height="6" fill="#650000"/>
<rect x="496" y="302" width="5" height="5" fill="#650000"/>
<rect x="496" y="318" width="5" height="6" fill="#650000"/>
<rect x="496" y="351" width="5" height="5" fill="#650000"/>
<rect x="496" y="367" width="5" height="6" fill="#650000"/>
<rect x="496" y="394" width="5" height="6" fill="#650000"/>
<rect x="496" y="416" width="5" height="6" fill="#650000"/>
<rect x="496" y="432" width="5" height="6" fill="#650000"/>
<rect x="496" y="465" width="5" height="5" fill="#650000"/>
<rect x="501" y="134" width="6" height="5" fill="#650000"/>
<rect x="501" y="291" width="6" height="6" fill="#650000"/>
<rect x="501" y="307" width="6" height="6" fill="#650000"/>
<rect x="501" y="313" width="6" height="5" fill="#810600"/>
<rect x="501" y="324" width="6" height="5" fill="#650000"/>
<rect x="501" y="329" width="6" height="6" fill="#650000"/>
<rect x="501" y="335" width="6" height="5" fill="#650000"/>
<rect x="501" y="345" width="6" height="6" fill="#650000"/>
<rect x="501" y="351" width="6" height="5" fill="#650000"/>
<rect x="501" y="356" width="6" height="6" fill="#650000"/>
<rect x="501" y="362" width="6" height="5" fill="#650000"/>
<rect x="501" y="373" width="6" height="5" fill="#810600"/>
<rect x="501" y="394" width="6" height="6" fill="#650000"/>
<rect x="501" y="427" width="6" height="5" fill="#650000"/>
<rect x="507" y="231" width="5" height="6" fill="#650000"/>
<rect x="507" y="237" width="5" height="5" fill="#650000"/>
<rect x="507" y="275" width="5" height="5" fill="#650000"/>
<rect x="507" y="297" width="5" height="5" fill="#650000"/>
<rect x="507" y="324" width="5" height="5" fill="#650000"/>
<rect x="507" y="345" width="5" height="6" fill="#650000"/>
<rect x="507" y="356" width="5" height="6" fill="#650000"/>
<rect x="507" y="373" width="5" height="5" fill="#650000"/>
<rect x="507" y="449" width="5" height="5" fill="#650000"/>
<rect x="507" y="541" width="5" height="6" fill="#650000"/>
<rect x="512" y="106" width="5" height="6" fill="#650000"/>
<rect x="512" y="231" width="5" height="6" fill="#650000"/>
<rect x="512" y="264" width="5" height="5" fill="#650000"/>
<rect x="512" y="269" width="5" height="6" fill="#650000"/>
<rect x="512" y="286" width="5" height="5" fill="#650000"/>
<rect x="512" y="297" width="5" height="5" fill="#650000"/>
<rect x="512" y="351" width="5" height="5" fill="#650000"/>
<rect x="512" y="362" width="5" height="5" fill="#650000"/>
<rect x="512" y="373" width="5" height="5" fill="#650000"/>
<rect x="512" y="422" width="5" height="5" fill="#650000"/>
<rect x="512" y="454" width="5" height="6" fill="#650000"/>
<rect x="517" y="253" width="6" height="6" fill="#650000"/>
<rect x="517" y="259" width="6" height="5" fill="#650000"/>
<rect x="517" y="264" width="6" height="5" fill="#810600"/>
<rect x="517" y="291" width="6" height="6" fill="#650000"/>
<rect x="517" y="302" width="6" height="5" fill="#650000"/>
<rect x="517" y="329" width="6" height="6" fill="#650000"/>
<rect x="517" y="356" width="6" height="6" fill="#650000"/>
<rect x="517" y="384" width="6" height="5" fill="#650000"/>
<rect x="517" y="449" width="6" height="5" fill="#650000"/>
<rect x="517" y="454" width="6" height="6" fill="#650000"/>
<rect x="517" y="487" width="6" height="5" fill="#650000"/>
<rect x="523" y="351" width="5" height="5" fill="#810600"/>
<rect x="523" y="400" width="5" height="5" fill="#650000"/>
<rect x="523" y="481" width="5" height="6" fill="#650000"/>
<rect x="528" y="69" width="6" height="5" fill="#650000"/>
<rect x="528" y="199" width="6" height="5" fill="#650000"/>
<rect x="528" y="297" width="6" height="5" fill="#650000"/>
<rect x="528" y="318" width="6" height="6" fill="#810600"/>
<rect x="528" y="329" width="6" height="6" fill="#650000"/>
<rect x="528" y="335" width="6" height="5" fill="#650000"/>
<rect x="528" y="362" width="6" height="5" fill="#650000"/>
<rect x="528" y="427" width="6" height="5" fill="#650000"/>
<rect x="528" y="454" width="6" height="6" fill="#650000"/>
<rect x="534" y="79" width="5" height="6" fill="#650000"/>
<rect x="534" y="101" width="5" height="5" fill="#650000"/>
<rect x="534" y="242" width="5" height="6" fill="#650000"/>
<rect x="534" y="313" width="5" height="5" fill="#650000"/>
<rect x="534" y="345" width="5" height="6" fill="#650000"/>
<rect x="534" y="514" width="5" height="5" fill="#650000"/>
<rect x="539" y="275" width="6" height="5" fill="#650000"/>
<rect x="539" y="324" width="6" height="5" fill="#650000"/>
<rect x="539" y="422" width="6" height="5" fill="#810600"/>
<rect x="539" y="481" width="6" height="6" fill="#650000"/>
<rect x="545" y="79" width="5" height="6" fill="#650000"/>
<rect x="545" y="215" width="5" height="6" fill="#650000"/>
<rect x="545" y="302" width="5" height="5" fill="#650000"/>
<rect x="545" y="313" width="5" height="5" fill="#650000"/>
<rect x="545" y="329" width="5" height="6" fill="#650000"/>
<rect x="545" y="356" width="5" height="6" fill="#650000"/>
<rect x="545" y="432" width="5" height="6" fill="#650000"/>
<rect x="545" y="503" width="5" height="5" fill="#650000"/>
<rect x="550" y="96" width="5" height="5" fill="#650000"/>
<rect x="550" y="106" width="5" height="6" fill="#650000"/>
<rect x="550" y="128" width="5" height="6" fill="#650000"/>
<rect x="550" y="150" width="5" height="5" fill="#650000"/>
<rect x="550" y="226" width="5" height="5" fill="#650000"/>
<rect x="550" y="313" width="5" height="5" fill="#650000"/>
<rect x="550" y="324" width="5" height="5" fill="#650000"/>
<rect x="550" y="329" width="5" height="6" fill="#650000"/>
<rect x="550" y="384" width="5" height="5" fill="#650000"/>
<rect x="550" y="503" width="5" height="5" fill="#650000"/>
<rect x="555" y="106" width="6" height="6" fill="#650000"/>
<rect x="555" y="161" width="6" height="5" fill="#650000"/>
<rect x="555" y="210" width="6" height="5" fill="#650000"/>
<rect x="555" y="242" width="6" height="6" fill="#650000"/>
<rect x="555" y="291" width="6" height="6" fill="#650000"/>
<rect x="555" y="394" width="6" height="6" fill="#650000"/>
<rect x="555" y="487" width="6" height="5" fill="#650000"/>
<rect x="561" y="69" width="5" height="5" fill="#650000"/>
<rect x="561" y="101" width="5" height="5" fill="#650000"/>
<rect x="561" y="193" width="5" height="6" fill="#650000"/>
<rect x="561" y="351" width="5" height="5" fill="#650000"/>
<rect x="561" y="384" width="5" height="5" fill="#650000"/>
<rect x="561" y="411" width="5" height="5" fill="#650000"/>
<rect x="561" y="465" width="5" height="5" fill="#650000"/>
<rect x="566" y="221" width="6" height="5" fill="#650000"/>
<rect x="566" y="307" width="6" height="6" fill="#650000"/>
<rect x="566" y="356" width="6" height="6" fill="#650000"/>
<rect x="566" y="389" width="6" height="5" fill="#650000"/>
<rect x="566" y="394" width="6" height="6" fill="#650000"/>
<rect x="566" y="460" width="6" height="5" fill="#650000"/>
<rect x="572" y="69" width="5" height="5" fill="#650000"/>
<rect x="572" y="74" width="5" height="5" fill="#650000"/>
<rect x="572" y="101" width="5" height="5" fill="#650000"/>
<rect x="572" y="204" width="5" height="6" fill="#650000"/>
<rect x="572" y="231" width="5" height="6" fill="#650000"/>
<rect x="572" y="264" width="5" height="5" fill="#650000"/>
<rect x="572" y="297" width="5" height="5" fill="#650000"/>
<rect x="572" y="302" width="5" height="5" fill="#650000"/>
<rect x="572" y="400" width="5" height="5" fill="#650000"/>
<rect x="577" y="74" width="6" height="5" fill="#810600"/>
<rect x="577" y="96" width="6" height="5" fill="#650000"/>
<rect x="577" y="101" width="6" height="5" fill="#650000"/>
<rect x="577" y="199" width="6" height="5" fill="#650000"/>
<rect x="577" y="204" width="6" height="6" fill="#650000"/>
<rect x="577" y="215" width="6" height="6" fill="#650000"/>
<rect x="577" y="324" width="6" height="5" fill="#650000"/>
<rect x="577" y="351" width="6" height="5" fill="#810600"/>
<rect x="577" y="378" width="6" height="6" fill="#650000"/>
<rect x="583" y="85" width="5" height="5" fill="#650000"/>
<rect x="583" y="90" width="5" height="6" fill="#810600"/>
<rect x="583" y="101" width="5" height="5" fill="#810600"/>
<rect x="583" y="123" width="5" height="5" fill="#650000"/>
<rect x="583" y="231" width="5" height="6" fill="#650000"/>
<rect x="588" y="85" width="5" height="5" fill="#650000"/>
<rect x="588" y="112" width="5" height="5" fill="#650000"/>
<rect x="588" y="188" width="5" height="5" fill="#650000"/>
<rect x="588" y="259" width="5" height="5" fill="#650000"/>
<rect x="588" y="318" width="5" height="6" fill="#650000"/>
<rect x="588" y="367" width="5" height="6" fill="#650000"/>
<rect x="588" y="547" width="5" height="5" fill="#650000"/>
<rect x="593" y="69" width="6" height="5" fill="#650000"/>
<rect x="593" y="79" width="6" height="6" fill="#650000"/>
<rect x="593" y="291" width="6" height="6" fill="#650000"/>
<rect x="593" y="356" width="6" height="6" fill="#650000"/>
<rect x="599" y="79" width="5" height="6" fill="#650000"/>
<rect x="599" y="172" width="5" height="5" fill="#650000"/>
<rect x="599" y="340" width="5" height="5" fill="#650000"/>
<rect x="599" y="351" width="5" height="5" fill="#650000"/>
<rect x="599" y="443" width="5" height="6" fill="#650000"/>
<rect x="599" y="601" width="5" height="5" fill="#650000"/>
<rect x="604" y="79" width="6" height="6" fill="#650000"/>
<rect x="604" y="85" width="6" height="5" fill="#650000"/>
<rect x="604" y="112" width="6" height="5" fill="#650000"/>
<rect x="604" y="155" width="6" height="6" fill="#650000"/>
<rect x="604" y="221" width="6" height="5" fill="#650000"/>
<rect x="610" y="367" width="5" height="6" fill="#650000"/>
<rect x="615" y="307" width="6" height="6" fill="#650000"/>
<rect x="626" y="286" width="5" height="5" fill="#650000"/>
<rect x="626" y="345" width="5" height="6" fill="#650000"/>
<rect x="637" y="280" width="5" height="6" fill="#650000"/>
<rect x="637" y="422" width="5" height="5" fill="#650000"/>
<rect x="637" y="563" width="5" height="5" fill="#650000"/>
<rect x="642" y="161" width="6" height="5" fill="#650000"/>
<rect x="642" y="275" width="6" height="5" fill="#650000"/>
<rect x="642" y="291" width="6" height="6" fill="#650000"/>
<rect x="642" y="449" width="6" height="5" fill="#650000"/>
<rect x="648" y="302" width="5" height="5" fill="#650000"/>
<rect x="653" y="221" width="6" height="5" fill="#650000"/>
<rect x="670" y="188" width="5" height="5" fill="#650000"/>
<rect x="670" y="329" width="5" height="6" fill="#650000"/>
<rect x="675" y="242" width="5" height="6" fill="#650000"/>
<rect x="680" y="139" width="6" height="5" fill="#650000"/>
<rect x="686" y="150" width="5" height="5" fill="#650000"/>
<rect x="686" y="248" width="5" height="5" fill="#650000"/>
<rect x="686" y="432" width="5" height="6" fill="#650000"/>
<rect x="686" y="470" width="5" height="6" fill="#650000"/>
<rect x="691" y="215" width="5" height="6" fill="#650000"/>
</g>
<g stroke="#fff" stroke-width="1" shape-rendering="crispEdges" fill="none">
<path d="M154 103.5h1M158 103.5h2M163 103.5h2M168 103.5h2M173 103.5h1M177 103.5h2M182 103.5h2M187 103.5h2M192 103.5h1M196 103.5h2M201 103.5h2M206 103.5h2M211 103.5h1M215 103.5h2M220 103.5h2M225 103.5h2M230 103.5h1M234 103.5h2M239 103.5h2M244 103.5h2M249 103.5h1M253 103.5h2M258 103.5h2M263 103.5h2M268 103.5h1M272 103.5h2M277 103.5h2M282 103.5h2M287 103.5h1M291 103.5h2M296 103.5h2M301 103.5h2M306 103.5h1M310 103.5h2M315 103.5h2M320 103.5h2M325 103.5h1M329 103.5h2M334 103.5h2M339 103.5h2M344 103.5h1M348 103.5h2M353 103.5h2M358 103.5h2M363 103.5h1M367 103.5h2M372 103.5h2M377 103.5h2M382 103.5h1M386 103.5h2M391 103.5h2M396 103.5h2M401 103.5h2M405 103.5h2M410 103.5h2M415 103.5h2M420 103.5h2M424 103.5h2M429 103.5h2M434 103.5h2M439 103.5h2M443 103.5h2M448 103.5h2M453 103.5h2M458 103.5h2M462 103.5h2M467 103.5h2M472 103.5h2M477 103.5h2M481 103.5h2M486 103.5h2M491 103.5h2M496 103.5h2M500 103.5h2M505 103.5h2M510 103.5h2M515 103.5h2M519 103.5h2M524 103.5h2M529 103.5h2M534 103.5h2M538 103.5h2M543 103.5h2M548 103.5h2M553 103.5h2M558 103.5h1M562 103.5h2M567 103.5h2M572 103.5h2M577 103.5h1M581 103.5h2M586 103.5h2M591 103.5h2M596 103.5h1M600 103.5h2M605 103.5h2M610 103.5h2M615 103.5h1M619 103.5h2M624 103.5h2M629 103.5h2M634 103.5h1M638 103.5h2M643 103.5h2M648 103.5h2M653 103.5h1M657 103.5h2M662 103.5h2M667 103.5h2M672 103.5h1M676 103.5h2M681 103.5h2M686 103.5h2M691 103.5h1M695 103.5h1M154 172.5h1M158 172.5h2M163 172.5h2M168 172.5h2M173 172.5h1M177 172.5h2M182 172.5h2M187 172.5h2M192 172.5h1M196 172.5h2M201 172.5h2M206 172.5h2M211 172.5h1M215 172.5h2M220 172.5h2M225 172.5h2M230 172.5h1M234 172.5h2M239 172.5h2M244 172.5h2M249 172.5h1M253 172.5h2M258 172.5h2M263 172.5h2M268 172.5h1M272 172.5h2M277 172.5h2M282 172.5h2M287 172.5h1M291 172.5h2M296 172.5h2M301 172.5h2M306 172.5h1M310 172.5h2M315 172.5h2M320 172.5h2M325 172.5h1M329 172.5h2M334 172.5h2M339 172.5h2M344 172.5h1M348 172.5h2M353 172.5h2M358 172.5h2M363 172.5h1M367 172.5h2M372 172.5h2M377 172.5h2M382 172.5h1M386 172.5h2M391 172.5h2M396 172.5h2M401 172.5h2M405 172.5h2M410 172.5h2M415 172.5h2M420 172.5h2M424 172.5h2M429 172.5h2M434 172.5h2M439 172.5h2M443 172.5h2M448 172.5h2M453 172.5h2M458 172.5h2M462 172.5h2M467 172.5h2M472 172.5h2M477 172.5h2M481 172.5h2M486 172.5h2M491 172.5h2M496 172.5h2M500 172.5h2M505 172.5h2M510 172.5h2M515 172.5h2M519 172.5h2M524 172.5h2M529 172.5h2M534 172.5h2M538 172.5h2M543 172.5h2M548 172.5h2M553 172.5h2M558 172.5h1M562 172.5h2M567 172.5h2M572 172.5h2M577 172.5h1M581 172.5h2M586 172.5h2M591 172.5h2M596 172.5h1M600 172.5h2M605 172.5h2M610 172.5h2M615 172.5h1M619 172.5h2M624 172.5h2M629 172.5h2M634 172.5h1M638 172.5h2M643 172.5h2M648 172.5h2M653 172.5h1M657 172.5h2M662 172.5h2M667 172.5h2M672 172.5h1M676 172.5h2M681 172.5h2M686 172.5h2M691 172.5h1M695 172.5h1M154 241.5h1M158 241.5h2M163 241.5h2M168 241.5h2M173 241.5h1M177 241.5h2M182 241.5h2M187 241.5h2M192 241.5h1M196 241.5h2M201 241.5h2M206 241.5h2M211 241.5h1M215 241.5h2M220 241.5h2M225 241.5h2M230 241.5h1M234 241.5h2M239 241.5h2M244 241.5h2M249 241.5h1M253 241.5h2M258 241.5h2M263 241.5h2M268 241.5h1M272 241.5h2M277 241.5h2M282 241.5h2M287 241.5h1M291 241.5h2M296 241.5h2M301 241.5h2M306 241.5h1M310 241.5h2M315 241.5h2M320 241.5h2M325 241.5h1M329 241.5h2M334 241.5h2M339 241.5h2M344 241.5h1M348 241.5h2M353 241.5h2M358 241.5h2M363 241.5h1M367 241.5h2M372 241.5h2M377 241.5h2M382 241.5h1M386 241.5h2M391 241.5h2M396 241.5h2M401 241.5h2M405 241.5h2M410 241.5h2M415 241.5h2M420 241.5h2M424 241.5h2M429 241.5h2M434 241.5h2M439 241.5h2M443 241.5h2M448 241.5h2M453 241.5h2M458 241.5h2M462 241.5h2M467 241.5h2M472 241.5h2M477 241.5h2M481 241.5h2M486 241.5h2M491 241.5h2M496 241.5h2M500 241.5h2M505 241.5h2M510 241.5h2M515 241.5h2M519 241.5h2M524 241.5h2M529 241.5h2M534 241.5h2M538 241.5h2M543 241.5h2M548 241.5h2M553 241.5h2M558 241.5h1M562 241.5h2M567 241.5h2M572 241.5h2M577 241.5h1M581 241.5h2M586 241.5h2M591 241.5h2M596 241.5h1M600 241.5h2M605 241.5h2M610 241.5h2M615 241.5h1M619 241.5h2M624 241.5h2M629 241.5h2M634 241.5h1M638 241.5h2M643 241.5h2M648 241.5h2M653 241.5h1M657 241.5h2M662 241.5h2M667 241.5h2M672 241.5h1M676 241.5h2M681 241.5h2M686 241.5h2M691 241.5h1M695 242.5h1M154 310.5h1M158 310.5h2M163 310.5h2M168 310.5h2M173 310.5h1M177 310.5h2M182 310.5h2M187 310.5h2M192 310.5h1M196 310.5h2M201 310.5h2M206 310.5h2M211 310.5h1M215 310.5h2M220 310.5h2M225 310.5h2M230 310.5h1M234 310.5h2M239 310.5h2M244 310.5h2M249 310.5h1M253 310.5h2M258 310.5h2M263 310.5h2M268 310.5h1M272 310.5h2M277 310.5h2M282 310.5h2M287 310.5h1M291 310.5h2M296 310.5h2M301 310.5h2M306 310.5h1M310 310.5h2M315 310.5h2M320 310.5h2M325 310.5h1M329 310.5h2M334 310.5h2M339 310.5h2M344 310.5h1M348 310.5h2M353 310.5h2M358 310.5h2M363 310.5h1M367 310.5h2M372 310.5h2M377 310.5h2M382 310.5h1M386 310.5h2M391 310.5h2M396 310.5h2M401 310.5h2M405 310.5h2M410 310.5h2M415 310.5h2M420 310.5h2M424 310.5h2M429 310.5h2M434 310.5h2M439 310.5h2M443 310.5h2M448 310.5h2M453 310.5h2M458 310.5h2M462 310.5h2M467 310.5h2M472 310.5h2M477 310.5h2M481 310.5h2M486 310.5h2M491 310.5h2M496 310.5h2M500 310.5h2M505 310.5h2M510 310.5h2M515 310.5h2M519 310.5h2M524 310.5h2M529 310.5h2M534 310.5h2M538 310.5h2M543 310.5h2M548 310.5h2M553 310.5h2M558 311.5h1M562 311.5h2M567 311.5h2M572 311.5h2M577 311.5h1M581 311.5h2M586 311.5h2M591 311.5h2M596 311.5h1M600 311.5h2M605 311.5h2M610 311.5h2M615 311.5h1M619 311.5h2M624 311.5h2M629 311.5h2M634 311.5h1M638 311.5h2M643 311.5h2M648 311.5h2M653 311.5h1M657 311.5h2M662 311.5h2M667 311.5h2M672 311.5h1M676 311.5h2M681 311.5h2M686 311.5h2M691 311.5h1M695 311.5h1M154 380.5h1M158 380.5h2M163 380.5h2M168 380.5h2M173 380.5h1M177 380.5h2M182 380.5h2M187 380.5h2M192 380.5h1M196 380.5h2M201 380.5h2M206 380.5h2M211 380.5h1M215 380.5h2M220 380.5h2M225 380.5h2M230 380.5h1M234 380.5h2M239 380.5h2M244 380.5h2M249 380.5h1M253 380.5h2M258 380.5h2M263 380.5h2M268 380.5h1M272 380.5h2M277 380.5h2M282 380.5h2M287 380.5h1M291 380.5h2M296 380.5h2M301 380.5h2M306 380.5h1M310 380.5h2M315 380.5h2M320 380.5h2M325 380.5h1M329 380.5h2M334 380.5h2M339 380.5h2M344 380.5h1M348 380.5h2M353 380.5h2M358 380.5h2M363 380.5h1M367 380.5h2M372 380.5h2M377 380.5h2M382 380.5h1M386 380.5h2M391 380.5h2M396 380.5h2M401 380.5h2M405 380.5h2M410 380.5h2M415 380.5h2M420 380.5h2M424 380.5h2M429 380.5h2M434 380.5h2M439 380.5h2M443 380.5h2M448 380.5h2M453 380.5h2M458 380.5h2M462 380.5h2M467 380.5h2M472 380.5h2M477 380.5h2M481 380.5h2M486 380.5h2M491 380.5h2M496 380.5h2M500 380.5h2M505 380.5h2M510 380.5h2M515 380.5h2M519 380.5h2M524 380.5h2M529 380.5h2M534 380.5h2M538 380.5h2M543 380.5h2M548 380.5h2M553 380.5h2M558 380.5h1M562 380.5h2M567 380.5h2M572 380.5h2M577 380.5h1M581 380.5h2M586 380.5h2M591 380.5h2M596 380.5h1M600 380.5h2M605 380.5h2M610 380.5h2M615 380.5h1M619 380.5h2M624 380.5h2M629 380.5h2M634 380.5h1M638 380.5h2M643 380.5h2M648 380.5h2M653 380.5h1M657 380.5h2M662 380.5h2M667 380.5h2M672 380.5h1M676 380.5h2M681 380.5h2M686 380.5h2M691 380.5h1M695 380.5h1M154 449.5h1M158 449.5h2M163 449.5h2M168 449.5h2M173 449.5h1M177 449.5h2M182 449.5h2M187 449.5h2M192 449.5h1M196 449.5h2M201 449.5h2M206 449.5h2M211 449.5h1M215 449.5h2M220 449.5h2M225 449.5h2M230 449.5h1M234 449.5h2M239 449.5h2M244 449.5h2M249 449.5h1M253 449.5h2M258 449.5h2M263 449.5h2M268 449.5h1M272 449.5h2M277 449.5h2M282 449.5h2M287 449.5h1M291 449.5h2M296 449.5h2M301 449.5h2M306 449.5h1M310 449.5h2M315 449.5h2M320 449.5h2M325 449.5h1M329 449.5h2M334 449.5h2M339 449.5h2M344 449.5h1M348 449.5h2M353 449.5h2M358 449.5h2M363 449.5h1M367 449.5h2M372 449.5h2M377 449.5h2M382 449.5h1M386 449.5h2M391 449.5h2M396 449.5h2M401 449.5h2M405 449.5h2M410 449.5h2M415 449.5h2M420 449.5h2M424 449.5h2M429 449.5h2M434 449.5h2M439 449.5h2M443 449.5h2M448 449.5h2M453 449.5h2M458 449.5h2M462 449.5h2M467 449.5h2M472 449.5h2M477 449.5h2M481 449.5h2M486 449.5h2M491 449.5h2M496 449.5h2M500 449.5h2M505 449.5h2M510 449.5h2M515 449.5h2M519 449.5h2M524 449.5h2M529 449.5h2M534 449.5h2M538 449.5h2M543 449.5h2M548 449.5h2M553 449.5h2M558 449.5h1M562 449.5h2M567 449.5h2M572 449.5h2M577 449.5h1M581 449.5h2M586 449.5h2M591 449.5h2M596 449.5h1M600 449.5h2M605 449.5h2M610 449.5h2M615 449.5h1M619 449.5h2M624 449.5h2M629 449.5h2M634 449.5h1M638 449.5h2M643 449.5h2M648 449.5h2M653 449.5h1M657 449.5h2M662 449.5h2M667 449.5h2M672 449.5h1M676 449.5h2M681 449.5h2M686 449.5h2M691 449.5h1M695 449.5h1M154 518.5h1M158 518.5h2M163 518.5h2M168 518.5h2M173 518.5h1M177 518.5h2M182 518.5h2M187 518.5h2M192 518.5h1M196 518.5h2M201 518.5h2M206 518.5h2M211 518.5h1M215 518.5h2M220 518.5h2M225 518.5h2M230 518.5h1M234 518.5h2M239 518.5h2M244 518.5h2M249 518.5h1M253 518.5h2M258 518.5h2M263 518.5h2M268 518.5h1M272 518.5h2M277 518.5h2M282 518.5h2M287 518.5h1M291 518.5h2M296 518.5h2M301 518.5h2M306 518.5h1M310 518.5h2M315 518.5h2M320 518.5h2M325 518.5h1M329 518.5h2M334 518.5h2M339 518.5h2M344 518.5h1M348 518.5h2M353 518.5h2M358 518.5h2M363 518.5h1M367 518.5h2M372 518.5h2M377 518.5h2M382 518.5h1M386 518.5h2M391 518.5h2M396 518.5h2M401 518.5h2M405 518.5h2M410 518.5h2M415 518.5h2M420 518.5h2M424 518.5h2M429 518.5h2M434 518.5h2M439 518.5h2M443 518.5h2M448 518.5h2M453 518.5h2M458 518.5h2M462 518.5h2M467 518.5h2M472 518.5h2M477 518.5h2M481 518.5h2M486 518.5h2M491 518.5h2M496 518.5h2M500 518.5h2M505 518.5h2M510 518.5h2M515 518.5h2M519 518.5h2M524 518.5h2M529 518.5h2M534 518.5h2M538 518.5h2M543 518.5h2M548 518.5h2M553 518.5h2M558 518.5h1M562 518.5h2M567 518.5h2M572 518.5h2M577 518.5h1M581 518.5h2M586 518.5h2M591 518.5h2M596 518.5h1M600 518.5h2M605 518.5h2M610 518.5h2M615 518.5h1M619 518.5h2M624 518.5h2M629 518.5h2M634 518.5h1M638 518.5h2M643 518.5h2M648 518.5h2M653 518.5h1M657 518.5h2M662 518.5h2M667 518.5h2M672 518.5h1M676 518.5h2M681 518.5h2M686 518.5h2M691 518.5h1M695 518.5h1M154 587.5h1M158 587.5h2M163 587.5h2M168 587.5h2M173 587.5h1M177 587.5h2M182 587.5h2M187 587.5h2M192 587.5h1M196 587.5h2M201 587.5h2M206 587.5h2M211 587.5h1M215 587.5h2M220 587.5h2M225 587.5h2M230 587.5h1M234 587.5h2M239 587.5h2M244 587.5h2M249 587.5h1M253 587.5h2M258 587.5h2M263 587.5h2M268 587.5h1M272 587.5h2M277 587.5h2M282 587.5h2M287 587.5h1M291 587.5h2M296 587.5h2M301 587.5h2M306 587.5h1M310 587.5h2M315 587.5h2M320 587.5h2M325 587.5h1M329 587.5h2M334 587.5h2M339 587.5h2M344 587.5h1M348 587.5h2M353 587.5h2M358 587.5h2M363 587.5h1M367 587.5h2M372 587.5h2M377 587.5h2M382 587.5h1M386 587.5h2M391 587.5h2M396 587.5h2M401 587.5h2M405 587.5h2M410 587.5h2M415 587.5h2M420 587.5h2M424 587.5h2M429 587.5h2M434 587.5h2M439 587.5h2M443 587.5h2M448 587.5h2M453 587.5h2M458 587.5h2M462 587.5h2M467 587.5h2M472 587.5h2M477 587.5h2M481 587.5h2M486 587.5h2M491 587.5h2M496 587.5h2M500 587.5h2M505 587.5h2M510 587.5h2M515 587.5h2M519 587.5h2M524 587.5h2M529 587.5h2M534 587.5h2M538 587.5h2M543 587.5h2M548 587.5h2M553 587.5h2M558 587.5h1M562 587.5h2M567 587.5h2M572 587.5h2M577 587.5h1M581 587.5h2M586 587.5h2M591 587.5h2M596 587.5h1M600 587.5h2M605 587.5h2M610 587.5h2M615 587.5h1M619 587.5h2M624 587.5h2M629 587.5h2M634 587.5h1M638 587.5h2M643 587.5h2M648 587.5h2M653 587.5h1M657 587.5h2M662 587.5h2M667 587.5h2M672 587.5h1M676 587.5h2M681 587.5h2M686 587.5h2M691 587.5h1M695 587.5h1M218.5 69v1M218.5 73v2M218.5 78v2M218.5 83v2M218.5 88v1M218.5 92v2M218.5 97v2M218.5 102v2M218.5 107v1M218.5 111v2M218.5 116v2M218.5 121v2M218.5 126v1M218.5 130v2M218.5 135v2M218.5 140v2M218.5 145v1M218.5 149v2M218.5 154v2M218.5 159v2M218.5 164v1M218.5 168v2M218.5 173v2M218.5 178v2M218.5 183v1M218.5 187v2M218.5 192v2M218.5 197v2M218.5 202v1M218.5 206v2M218.5 211v2M218.5 216v2M218.5 221v1M218.5 225v2M218.5 230v2M218.5 235v2M218.5 240v1M218.5 244v2M218.5 249v2M218.5 254v2M218.5 259v1M218.5 263v2M218.5 268v2M218.5 273v2M218.5 278v1M218.5 282v2M218.5 287v2M218.5 292v2M218.5 297v1M218.5 301v2M218.5 306v2M218.5 311v2M218.5 316v2M218.5 320v2M218.5 325v2M218.5 330v2M218.5 335v2M218.5 339v2M218.5 344v2M218.5 349v2M218.5 354v2M218.5 358v2M218.5 363v2M218.5 368v2M218.5 373v2M218.5 377v2M218.5 382v2M218.5 387v2M218.5 392v2M218.5 396v2M218.5 401v2M218.5 406v2M218.5 411v2M218.5 415v2M218.5 420v2M218.5 425v2M218.5 430v2M218.5 434v2M218.5 439v2M218.5 444v2M218.5 449v2M218.5 453v2M218.5 458v2M218.5 463v2M218.5 468v2M218.5 473v1M218.5 477v2M218.5 482v2M218.5 487v2M218.5 492v1M218.5 496v2M218.5 501v2M218.5 506v2M218.5 511v1M218.5 515v2M218.5 520v2M218.5 525v2M218.5 530v1M218.5 534v2M218.5 539v2M218.5 544v2M218.5 549v1M218.5 553v2M218.5 558v2M218.5 563v2M218.5 568v1M218.5 572v2M218.5 577v2M218.5 582v2M218.5 587v1M218.5 591v2M218.5 596v2M218.5 601v2M218.5 606v1M218.5 610v1M318.5 69v1M318.5 73v2M318.5 78v2M318.5 83v2M318.5 88v1M318.5 92v2M318.5 97v2M318.5 102v2M318.5 107v1M318.5 111v2M318.5 116v2M318.5 121v2M318.5 126v1M318.5 130v2M318.5 135v2M318.5 140v2M318.5 145v1M318.5 149v2M318.5 154v2M318.5 159v2M318.5 164v1M318.5 168v2M318.5 173v2M318.5 178v2M318.5 183v1M318.5 187v2M318.5 192v2M318.5 197v2M318.5 202v1M318.5 206v2M318.5 211v2M318.5 216v2M318.5 221v1M318.5 225v2M318.5 230v2M318.5 235v2M318.5 240v1M318.5 244v2M318.5 249v2M318.5 254v2M318.5 259v1M318.5 263v2M318.5 268v2M318.5 273v2M318.5 278v1M318.5 282v2M318.5 287v2M318.5 292v2M318.5 297v1M318.5 301v2M318.5 306v2M318.5 311v2M318.5 316v2M318.5 320v2M318.5 325v2M318.5 330v2M318.5 335v2M318.5 339v2M318.5 344v2M318.5 349v2M318.5 354v2M318.5 358v2M318.5 363v2M318.5 368v2M318.5 373v2M318.5 377v2M318.5 382v2M318.5 387v2M318.5 392v2M318.5 396v2M318.5 401v2M318.5 406v2M318.5 411v2M318.5 415v2M318.5 420v2M318.5 425v2M318.5 430v2M318.5 434v2M318.5 439v2M318.5 444v2M318.5 449v2M318.5 453v2M318.5 458v2M318.5 463v2M318.5 468v2M318.5 473v1M318.5 477v2M318.5 482v2M318.5 487v2M318.5 492v1M318.5 496v2M318.5 501v2M318.5 506v2M318.5 511v1M318.5 515v2M318.5 520v2M318.5 525v2M318.5 530v1M318.5 534v2M318.5 539v2M318.5 544v2M318.5 549v1M318.5 553v2M318.5 558v2M318.5 563v2M318.5 568v1M318.5 572v2M318.5 577v2M318.5 582v2M318.5 587v1M318.5 591v2M318.5 596v2M318.5 601v2M318.5 606v1M318.5 610v1M418.5 69v1M418.5 73v2M418.5 78v2M418.5 83v2M418.5 88v1M418.5 92v2M418.5 97v2M418.5 102v2M418.5 107v1M418.5 111v2M418.5 116v2M418.5 121v2M418.5 126v1M418.5 130v2M418.5 135v2M418.5 140v2M418.5 145v1M418.5 149v2M418.5 154v2M418.5 159v2M418.5 164v1M418.5 168v2M418.5 173v2M418.5 178v2M418.5 183v1M418.5 187v2M418.5 192v2M418.5 197v2M417.5 202v1M417.5 206v2M417.5 211v2M417.5 216v2M417.5 221v1M417.5 225v2M417.5 230v2M417.5 235v2M417.5 240v1M417.5 244v2M417.5 249v2M417.5 254v2M417.5 259v1M417.5 263v2M417.5 268v2M417.5 273v2M417.5 278v1M417.5 282v2M417.5 287v2M417.5 292v2M417.5 297v1M417.5 301v2M417.5 306v2M417.5 311v2M417.5 316v2M417.5 320v2M417.5 325v2M417.5 330v2M417.5 335v2M417.5 339v2M417.5 344v2M417.5 349v2M417.5 354v2M417.5 358v2M417.5 363v2M417.5 368v2M417.5 373v2M417.5 377v2M417.5 382v2M417.5 387v2M417.5 392v2M417.5 396v2M417.5 401v2M417.5 406v2M417.5 411v2M417.5 415v2M417.5 420v2M417.5 425v2M417.5 430v2M417.5 434v2M417.5 439v2M417.5 444v2M417.5 449v2M417.5 453v2M417.5 458v2M417.5 463v2M417.5 468v2M417.5 473v1M417.5 477v2M417.5 482v2M417.5 487v2M417.5 492v1M417.5 496v2M417.5 501v2M417.5 506v2M417.5 511v1M417.5 515v2M417.5 520v2M417.5 525v2M417.5 530v1M417.5 534v2M417.5 539v2M417.5 544v2M417.5 549v1M417.5 553v2M417.5 558v2M417.5 563v2M417.5 568v1M417.5 572v2M417.5 577v2M417.5 582v2M417.5 587v1M417.5 591v2M417.5 596v2M417.5 601v2M417.5 606v1M417.5 610v1M517.5 69v1M517.5 73v2M517.5 78v2M517.5 83v2M517.5 88v1M517.5 92v2M517.5 97v2M517.5 102v2M517.5 107v1M517.5 111v2M517.5 116v2M517.5 121v2M517.5 126v1M517.5 130v2M517.5 135v2M517.5 140v2M517.5 145v1M517.5 149v2M517.5 154v2M517.5 159v2M517.5 164v1M517.5 168v2M517.5 173v2M517.5 178v2M517.5 183v1M517.5 187v2M517.5 192v2M517.5 197v2M517.5 202v1M517.5 206v2M517.5 211v2M517.5 216v2M517.5 221v1M517.5 225v2M517.5 230v2M517.5 235v2M517.5 240v1M517.5 244v2M517.5 249v2M517.5 254v2M517.5 259v1M517.5 263v2M517.5 268v2M517.5 273v2M517.5 278v1M517.5 282v2M517.5 287v2M517.5 292v2M517.5 297v1M517.5 301v2M517.5 306v2M517.5 311v2M517.5 316v2M517.5 320v2M517.5 325v2M517.5 330v2M517.5 335v2M517.5 339v2M517.5 344v2M517.5 349v2M517.5 354v2M517.5 358v2M517.5 363v2M517.5 368v2M517.5 373v2M517.5 377v2M517.5 382v2M517.5 387v2M517.5 392v2M517.5 396v2M517.5 401v2M517.5 406v2M517.5 411v2M517.5 415v2M517.5 420v2M517.5 425v2M517.5 430v2M517.5 434v2M517.5 439v2M517.5 444v2M517.5 449v2M517.5 453v2M517.5 458v2M517.5 463v2M517.5 468v2M517.5 473v1M517.5 477v2M517.5 482v2M517.5 487v2M517.5 492v1M517.5 496v2M517.5 501v2M517.5 506v2M517.5 511v1M517.5 515v2M517.5 520v2M517.5 525v2M517.5 530v1M517.5 534v2M517.5 539v2M517.5 544v2M517.5 549v1M517.5 553v2M517.5 558v2M517.5 563v2M517.5 568v1M517.5 572v2M517.5 577v2M517.5 582v2M517.5 587v1M517.5 591v2M517.5 596v2M517.5 601v2M517.5 606v1M517.5 610v1M617.5 69v1M617.5 73v2M617.5 78v2M617.5 83v2M617.5 88v1M617.5 92v2M617.5 97v2M617.5 102v2M617.5 107v1M617.5 111v2M617.5 116v2M617.5 121v2M617.5 126v1M617.5 130v2M617.5 135v2M617.5 140v2M617.5 145v1M617.5 149v2M617.5 154v2M617.5 159v2M617.5 164v1M617.5 168v2M617.5 173v2M617.5 178v2M617.5 183v1M617.5 187v2M617.5 192v2M617.5 197v2M617.5 202v1M617.5 206v2M617.5 211v2M617.5 216v2M617.5 221v1M617.5 225v2M617.5 230v2M617.5 235v2M617.5 240v1M617.5 244v2M617.5 249v2M617.5 254v2M617.5 259v1M617.5 263v2M617.5 268v2M617.5 273v2M617.5 278v1M617.5 282v2M617.5 287v2M617.5 292v2M617.5 297v1M617.5 301v2M617.5 306v2M617.5 311v2M617.5 316v2M617.5 320v2M617.5 325v2M617.5 330v2M617.5 335v2M617.5 339v2M617.5 344v2M617.5 349v2M617.5 354v2M617.5 358v2M617.5 363v2M617.5 368v2M617.5 373v2M617.5 377v2M617.5 382v2M617.5 387v2M617.5 392v2M617.5 396v2M617.5 401v2M617.5 406v2M617.5 411v2M617.5 415v2M617.5 420v2M617.5 425v2M617.5 430v2M617.5 434v2M617.5 439v2M617.5 444v2M617.5 449v2M617.5 453v2M617.5 458v2M617.5 463v2M617.5 468v2M617.5 473v1M617.5 477v2M617.5 482v2M617.5 487v2M617.5 492v1M617.5 496v2M617.5 501v2M617.5 506v2M617.5 511v1M617.5 515v2M617.5 520v2M617.5 525v2M617.5 530v1M617.5 534v2M617.5 539v2M617.5 544v2M617.5 549v1M617.5 553v2M617.5 558v2M617.5 563v2M617.5 568v1M617.5 572v2M617.5 577v2M617.5 582v2M617.5 587v1M617.5 591v2M617.5 596v2M617.5 601v2M617.5 606v1M617.5 610v1"/>
<rect x="153.5" y="68.5" width="543" height="543"/>
</g>
<circle cx="426" cy="340" r="46" fill="none" stroke="#fff" stroke-width="2"/>
<circle cx="426.05" cy="338.95" r="8.05" fill="none" stroke="#0000ff" stroke-width="1.8"/>
<g shape-rendering="crispEdges">
<rect x="86" y="620" width="10" height="15" fill="#2c0000"/>
<rect x="96" y="620" width="11" height="15" fill="#330000"/>
<rect x="107" y="620" width="10" height="15" fill="#3b0000"/>
<rect x="117" y="620" width="11" height="15" fill="#420000"/>
<rect x="128" y="620" width="11" height="15" fill="#4a0000"/>
<rect x="139" y="620" width="10" height="15" fill="#510000"/>
<rect x="149" y="620" width="11" height="15" fill="#590000"/>
<rect x="160" y="620" width="11" height="15" fill="#600000"/>
<rect x="171" y="620" width="10" height="15" fill="#680100"/>
<rect x="181" y="620" width="11" height="15" fill="#700200"/>
<rect x="192" y="620" width="10" height="15" fill="#790400"/>
<rect x="202" y="620" width="11" height="15" fill="#810600"/>
<rect x="213" y="620" width="11" height="15" fill="#8a0700"/>
<rect x="224" y="620" width="10" height="15" fill="#910e00"/>
<rect x="234" y="620" width="11" height="15" fill="#991600"/>
<rect x="245" y="620" width="11" height="15" fill="#a11f00"/>
<rect x="256" y="620" width="10" height="15" fill="#a82600"/>
<rect x="266" y="620" width="11" height="15" fill="#af2d00"/>
<rect x="277" y="620" width="10" height="15" fill="#b63400"/>
<rect x="287" y="620" width="11" height="15" fill="#bd3b00"/>
<rect x="298" y="620" width="11" height="15" fill="#c44200"/>
<rect x="309" y="620" width="10" height="15" fill="#cb4900"/>
<rect x="319" y="620" width="11" height="15" fill="#d14f00"/>
<rect x="330" y="620" width="11" height="15" fill="#d85600"/>
<rect x="341" y="620" width="10" height="15" fill="#df5d00"/>
<rect x="351" y="620" width="11" height="15" fill="#e56300"/>
<rect x="362" y="620" width="10" height="15" fill="#eb6a01"/>
<rect x="372" y="620" width="11" height="15" fill="#f17102"/>
<rect x="383" y="620" width="11" height="15" fill="#f67703"/>
<rect x="394" y="620" width="10" height="15" fill="#fc7e04"/>
<rect x="404" y="620" width="11" height="15" fill="#ff860a"/>
<rect x="415" y="620" width="11" height="15" fill="#ff9117"/>
<rect x="426" y="620" width="10" height="15" fill="#ff9921"/>
<rect x="436" y="620" width="11" height="15" fill="#ffa027"/>
<rect x="447" y="620" width="10" height="15" fill="#ffa72e"/>
<rect x="457" y="620" width="11" height="15" fill="#ffae34"/>
<rect x="468" y="620" width="11" height="15" fill="#ffb53a"/>
<rect x="479" y="620" width="10" height="15" fill="#ffbc40"/>
<rect x="489" y="620" width="11" height="15" fill="#ffc347"/>
<rect x="500" y="620" width="11" height="15" fill="#ffca4d"/>
<rect x="511" y="620" width="10" height="15" fill="#ffd053"/>
<rect x="521" y="620" width="11" height="15" fill="#ffd659"/>
<rect x="532" y="620" width="10" height="15" fill="#ffdc60"/>
<rect x="542" y="620" width="11" height="15" fill="#ffe266"/>
<rect x="553" y="620" width="11" height="15" fill="#ffe76c"/>
<rect x="564" y="620" width="10" height="15" fill="#ffed72"/>
<rect x="574" y="620" width="11" height="15" fill="#fff379"/>
<rect x="585" y="620" width="11" height="15" fill="#fff97f"/>
<rect x="596" y="620" width="10" height="15" fill="#fffc87"/>
<rect x="606" y="620" width="11" height="15" fill="#fffd90"/>
<rect x="617" y="620" width="10" height="15" fill="#fffd99"/>
<rect x="627" y="620" width="11" height="15" fill="#fffda3"/>
<rect x="638" y="620" width="11" height="15" fill="#fffeac"/>
<rect x="649" y="620" width="10" height="15" fill="#fffeb6"/>
<rect x="659" y="620" width="11" height="15" fill="#fffebf"/>
<rect x="670" y="620" width="11" height="15" fill="#ffffc8"/>
<rect x="681" y="620" width="10" height="15" fill="#ffffd0"/>
<rect x="691" y="620" width="11" height="15" fill="#ffffd6"/>
<rect x="702" y="620" width="10" height="15" fill="#ffffdd"/>
<rect x="712" y="620" width="11" height="15" fill="#ffffe3"/>
<rect x="723" y="620" width="11" height="15" fill="#ffffe9"/>
<rect x="734" y="620" width="10" height="15" fill="#ffffef"/>
<rect x="744" y="620" width="11" height="15" fill="#fffff6"/>
<rect x="755" y="620" width="10" height="15" fill="#fffffc"/>
<rect x="85.5" y="620.5" width="679" height="14" fill="none" stroke="#fff"/>
<rect x="255" y="620" width="1" height="15" fill="#fff"/>
<rect x="425" y="620" width="1" height="15" fill="#fff"/>
<rect x="595" y="620" width="1" height="15" fill="#fff"/>
</g>
<text><tspan x="377.3" y="15" font-size="17" textLength="32.4" lengthAdjust="spacingAndGlyphs" stroke-width="0.34">GRB</tspan><tspan x="410.6" y="15" font-size="17" textLength="61.8" lengthAdjust="spacing" stroke-width="0.34">081109</tspan></text>
<text><tspan x="222.5" y="35" font-size="17" textLength="43" lengthAdjust="spacingAndGlyphs" stroke-width="0.34">SWIFT</tspan> <tspan x="277.5" y="35" font-size="17" textLength="26" lengthAdjust="spacingAndGlyphs" stroke-width="0.34">XRT</tspan> <tspan x="331.6" y="35" font-size="17" textLength="40.4" lengthAdjust="spacing" stroke-width="0.34">2008</tspan> <tspan x="380.5" y="35" font-size="17" textLength="29.5" lengthAdjust="spacingAndGlyphs" stroke-width="0.34">Nov</tspan> <tspan x="427" y="35" font-size="17" textLength="9.5" lengthAdjust="spacingAndGlyphs" stroke-width="0.34">9</tspan> <tspan x="472.5" y="35" font-size="17" textLength="76" lengthAdjust="spacingAndGlyphs" stroke-width="0.34">Exposure:</tspan> <tspan x="558.6" y="35" font-size="17" textLength="51.2" lengthAdjust="spacing" stroke-width="0.34">25000</tspan> <tspan x="619.5" y="35" font-size="17" textLength="8" lengthAdjust="spacingAndGlyphs" stroke-width="0.34">s</tspan></text>
<text><tspan x="207.5" y="63" font-size="13" textLength="15.7" lengthAdjust="spacing" stroke-width="0.00">20</tspan><tspan x="225.2" y="57" font-size="8.5" stroke-width="0.00">s</tspan></text>
<text><tspan x="307.5" y="63" font-size="13" textLength="15.7" lengthAdjust="spacing" stroke-width="0.00">15</tspan><tspan x="325.2" y="57" font-size="8.5" stroke-width="0.00">s</tspan></text>
<text><tspan x="407.5" y="63" font-size="13" textLength="15.7" lengthAdjust="spacing" stroke-width="0.00">10</tspan><tspan x="425.2" y="57" font-size="8.5" stroke-width="0.00">s</tspan></text>
<text><tspan x="506.5" y="63" font-size="13" textLength="15.7" lengthAdjust="spacing" stroke-width="0.00">05</tspan><tspan x="524.2" y="57" font-size="8.5" stroke-width="0.00">s</tspan></text>
<text><tspan x="582" y="63" font-size="13" textLength="15.2" lengthAdjust="spacing" stroke-width="0.00">22</tspan><tspan x="599.3" y="57" font-size="9.5" stroke-width="0.00">h</tspan><tspan x="606.6" y="63" font-size="13" textLength="15.2" lengthAdjust="spacing" stroke-width="0.00">03</tspan><tspan x="623.6" y="57" font-size="8.5" textLength="7.6" lengthAdjust="spacingAndGlyphs" stroke-width="0.00">m</tspan><tspan x="633.1" y="63" font-size="13" textLength="15.2" lengthAdjust="spacing" stroke-width="0.00">00</tspan><tspan x="651" y="57" font-size="8.5" stroke-width="0.00">s</tspan></text>
<text x="702.4" y="110" font-size="13" textLength="43.5" lengthAdjust="spacing" text-anchor="start" stroke-width="0.00">41'00"</text>
<text x="702.4" y="179" font-size="13" textLength="22" lengthAdjust="spacing" text-anchor="start" stroke-width="0.00">30"</text>
<text x="702.4" y="248" font-size="13" textLength="43.5" lengthAdjust="spacing" text-anchor="start" stroke-width="0.00">42'00"</text>
<text x="702.4" y="317" font-size="13" textLength="22" lengthAdjust="spacing" text-anchor="start" stroke-width="0.00">30"</text>
<text x="702.4" y="386" font-size="13" textLength="76.5" lengthAdjust="spacing" text-anchor="start" stroke-width="0.00">−54°43'00"</text>
<text x="702.4" y="455.5" font-size="13" textLength="22" lengthAdjust="spacing" text-anchor="start" stroke-width="0.00">30"</text>
<text x="702.4" y="524.5" font-size="13" textLength="43.5" lengthAdjust="spacing" text-anchor="start" stroke-width="0.00">44'00"</text>
<text x="702.4" y="593.5" font-size="13" textLength="22" lengthAdjust="spacing" text-anchor="start" stroke-width="0.00">30"</text>
<text x="85.5" y="657" font-size="18" text-anchor="middle" stroke-width="0.36">0</text>
<text x="255.5" y="657" font-size="18" text-anchor="middle" stroke-width="0.36">4</text>
<text x="414.6" y="657" font-size="18" textLength="23" lengthAdjust="spacing" text-anchor="start" stroke-width="0.36">16</text>
<text x="583.6" y="657" font-size="18" textLength="23" lengthAdjust="spacing" text-anchor="start" stroke-width="0.36">36</text>
<text x="743" y="657" font-size="18" textLength="23" lengthAdjust="spacing" text-anchor="start" stroke-width="0.36">62</text>
<mask id="ip" maskUnits="userSpaceOnUse" x="380" y="255" width="140" height="45"><text x="387.5" y="282" font-size="24.3" textLength="123" lengthAdjust="spacing" style="fill:#fff;stroke:#000;stroke-width:0.5px">Input_pos</text></mask>
<text x="387.5" y="282" font-size="24.3" textLength="123" lengthAdjust="spacing" mask="url(#ip)" style="fill:#fff;stroke:none">Input_pos</text>
</svg></body></html>
